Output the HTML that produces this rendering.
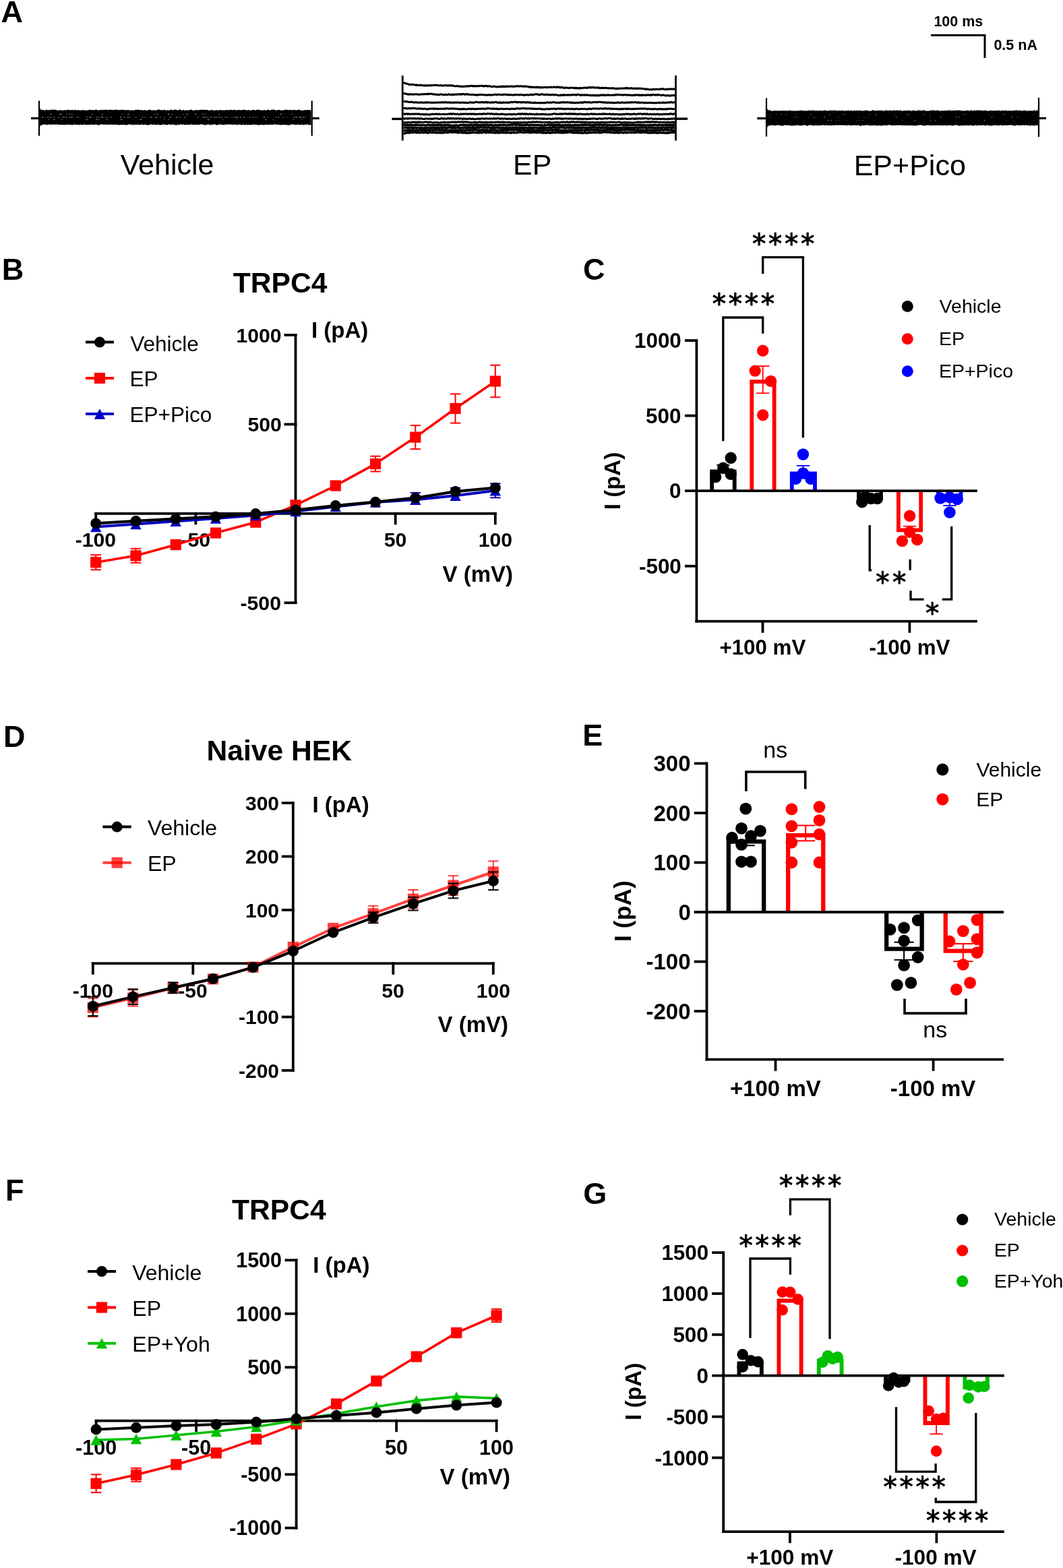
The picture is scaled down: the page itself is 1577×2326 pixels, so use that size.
<!DOCTYPE html>
<html><head><meta charset="utf-8"><title>Figure</title>
<style>html,body{margin:0;padding:0;background:#fff;} svg{display:block;}</style></head>
<body>
<svg width="1577" height="2326" viewBox="0 0 1577 2326">
<rect x="0" y="0" width="1577" height="2326" fill="#fff"/>
<text x="1.50" y="33.30" font-family="'Liberation Sans', sans-serif" font-weight="bold" font-size="45" fill="#000" >A</text>
<text x="1385.40" y="38.70" font-family="'Liberation Sans', sans-serif" font-weight="bold" font-size="21.5" fill="#000" >100 ms</text>
<text x="1474.40" y="74.20" font-family="'Liberation Sans', sans-serif" font-weight="bold" font-size="21.5" fill="#000" >0.5 nA</text>
<path d="M1381,52.3 H1461 V86" stroke="#000" stroke-width="3.0" fill="none" stroke-linejoin="miter" />
<line x1="46.00" y1="175.50" x2="58.00" y2="175.50" stroke="#000" stroke-width="3.2" stroke-linecap="butt"/>
<line x1="58.00" y1="149.50" x2="58.00" y2="201.50" stroke="#000" stroke-width="2.2" stroke-linecap="butt"/>
<path d="M58.0,162.7 L59.5,163.6 L61.0,163.2 L62.5,163.4 L64.0,162.6 L65.5,163.7 L67.0,163.6 L68.5,163.1 L70.0,162.8 L71.5,163.8 L73.0,162.5 L74.5,163.8 L76.0,162.8 L77.5,162.5 L79.0,163.1 L80.5,162.8 L82.0,162.8 L83.5,162.9 L85.0,163.7 L86.5,163.4 L88.0,163.9 L89.5,162.7 L91.0,163.5 L92.5,163.8 L94.0,163.7 L95.5,162.9 L97.0,163.7 L98.5,163.2 L100.0,162.5 L101.5,163.6 L103.0,162.7 L104.5,163.5 L106.0,163.0 L107.5,163.2 L109.0,163.2 L110.5,163.2 L112.0,162.6 L113.5,163.9 L115.0,163.1 L116.5,163.2 L118.0,163.6 L119.5,163.7 L121.0,163.2 L122.5,163.3 L124.0,162.9 L125.5,163.8 L127.0,163.6 L128.5,163.7 L130.0,163.6 L131.5,163.3 L133.0,162.6 L134.5,163.3 L136.0,163.2 L137.5,163.0 L139.0,163.3 L140.5,163.4 L142.0,162.5 L143.5,162.7 L145.0,163.7 L146.5,163.6 L148.0,162.9 L149.5,163.4 L151.0,162.5 L152.5,163.6 L154.0,162.7 L155.5,163.0 L157.0,162.7 L158.5,162.7 L160.0,163.5 L161.5,163.0 L163.0,162.5 L164.5,163.1 L166.0,162.7 L167.5,163.2 L169.0,163.3 L170.5,162.5 L172.0,162.7 L173.5,162.7 L175.0,163.4 L176.5,162.8 L178.0,163.6 L179.5,162.8 L181.0,163.1 L182.5,162.9 L184.0,162.6 L185.5,163.9 L187.0,162.9 L188.5,162.9 L190.0,163.5 L191.5,162.9 L193.0,163.7 L194.5,163.6 L196.0,163.3 L197.5,163.7 L199.0,163.5 L200.5,163.0 L202.0,162.8 L203.5,163.1 L205.0,162.6 L206.5,162.9 L208.0,163.0 L209.5,163.8 L211.0,162.8 L212.5,163.9 L214.0,163.0 L215.5,163.4 L217.0,163.8 L218.5,163.7 L220.0,163.2 L221.5,162.8 L223.0,162.6 L224.5,163.8 L226.0,163.6 L227.5,163.7 L229.0,163.0 L230.5,163.7 L232.0,163.8 L233.5,162.7 L235.0,162.6 L236.5,162.6 L238.0,163.6 L239.5,163.0 L241.0,163.6 L242.5,163.3 L244.0,162.6 L245.5,163.7 L247.0,163.8 L248.5,162.9 L250.0,163.7 L251.5,163.4 L253.0,162.7 L254.5,162.6 L256.0,163.9 L257.5,162.7 L259.0,162.8 L260.5,162.6 L262.0,163.0 L263.5,163.8 L265.0,162.9 L266.5,162.6 L268.0,162.6 L269.5,163.9 L271.0,163.3 L272.5,162.9 L274.0,163.8 L275.5,163.9 L277.0,162.8 L278.5,163.9 L280.0,163.5 L281.5,162.9 L283.0,162.9 L284.5,162.6 L286.0,163.9 L287.5,163.4 L289.0,163.8 L290.5,162.9 L292.0,162.9 L293.5,163.8 L295.0,163.0 L296.5,163.3 L298.0,162.8 L299.5,162.8 L301.0,163.3 L302.5,162.6 L304.0,162.9 L305.5,163.2 L307.0,162.7 L308.5,163.6 L310.0,163.8 L311.5,163.6 L313.0,163.7 L314.5,162.6 L316.0,163.8 L317.5,163.8 L319.0,163.8 L320.5,162.9 L322.0,163.6 L323.5,163.7 L325.0,163.5 L326.5,163.1 L328.0,163.5 L329.5,162.9 L331.0,163.8 L332.5,163.3 L334.0,163.7 L335.5,163.1 L337.0,162.9 L338.5,163.4 L340.0,163.3 L341.5,163.0 L343.0,162.7 L344.5,163.7 L346.0,163.1 L347.5,162.8 L349.0,163.2 L350.5,163.4 L352.0,163.5 L353.5,162.8 L355.0,163.2 L356.5,163.1 L358.0,163.8 L359.5,162.9 L361.0,162.6 L362.5,163.2 L364.0,162.7 L365.5,163.7 L367.0,163.5 L368.5,163.0 L370.0,163.5 L371.5,163.7 L373.0,163.8 L374.5,162.7 L376.0,162.8 L377.5,163.6 L379.0,163.5 L380.5,163.0 L382.0,162.7 L383.5,162.6 L385.0,163.6 L386.5,162.9 L388.0,163.8 L389.5,163.6 L391.0,163.4 L392.5,163.1 L394.0,163.9 L395.5,163.6 L397.0,162.7 L398.5,162.7 L400.0,163.8 L401.5,163.3 L403.0,162.7 L404.5,162.8 L406.0,162.5 L407.5,163.1 L409.0,163.4 L410.5,163.7 L412.0,162.9 L413.5,162.9 L415.0,162.9 L416.5,163.6 L418.0,163.9 L419.5,163.2 L421.0,163.6 L422.5,163.0 L424.0,162.7 L425.5,162.7 L427.0,163.3 L428.5,163.6 L430.0,162.7 L431.5,163.3 L433.0,163.2 L434.5,163.2 L436.0,163.1 L437.5,162.9 L439.0,163.6 L440.5,163.2 L442.0,163.0 L443.5,162.5 L445.0,163.3 L446.5,163.7 L448.0,163.9 L449.5,163.7 L451.0,163.5 L452.5,162.9 L454.0,163.4 L455.5,163.0 L457.0,163.0 L458.5,163.1 L460.0,163.3 L461.5,163.8 L461.5,185.3 L460.0,185.3 L458.5,185.5 L457.0,184.9 L455.5,184.3 L454.0,185.0 L452.5,184.5 L451.0,185.7 L449.5,184.9 L448.0,184.9 L446.5,185.0 L445.0,185.5 L443.5,184.7 L442.0,184.6 L440.5,185.2 L439.0,185.3 L437.5,184.9 L436.0,184.9 L434.5,184.3 L433.0,184.8 L431.5,184.7 L430.0,185.0 L428.5,185.7 L427.0,185.7 L425.5,185.3 L424.0,185.4 L422.5,184.7 L421.0,185.1 L419.5,185.5 L418.0,185.1 L416.5,185.4 L415.0,185.3 L413.5,185.1 L412.0,185.1 L410.5,184.6 L409.0,185.1 L407.5,184.3 L406.0,184.6 L404.5,185.3 L403.0,184.7 L401.5,184.9 L400.0,184.5 L398.5,185.6 L397.0,184.8 L395.5,184.9 L394.0,184.8 L392.5,185.6 L391.0,185.3 L389.5,185.5 L388.0,184.5 L386.5,185.6 L385.0,185.2 L383.5,185.7 L382.0,185.3 L380.5,185.0 L379.0,185.3 L377.5,184.4 L376.0,185.1 L374.5,184.7 L373.0,185.1 L371.5,185.6 L370.0,185.1 L368.5,185.3 L367.0,185.5 L365.5,184.7 L364.0,185.4 L362.5,185.5 L361.0,184.4 L359.5,185.2 L358.0,185.6 L356.5,185.1 L355.0,184.6 L353.5,185.0 L352.0,185.3 L350.5,184.9 L349.0,185.0 L347.5,184.3 L346.0,185.2 L344.5,184.9 L343.0,184.7 L341.5,184.5 L340.0,184.4 L338.5,184.9 L337.0,184.3 L335.5,184.8 L334.0,184.9 L332.5,185.1 L331.0,185.4 L329.5,184.4 L328.0,185.2 L326.5,184.5 L325.0,184.5 L323.5,185.3 L322.0,185.6 L320.5,185.6 L319.0,184.3 L317.5,184.5 L316.0,184.7 L314.5,185.0 L313.0,184.7 L311.5,185.7 L310.0,184.5 L308.5,184.4 L307.0,185.0 L305.5,185.5 L304.0,185.4 L302.5,185.2 L301.0,184.4 L299.5,184.4 L298.0,184.3 L296.5,185.1 L295.0,185.1 L293.5,184.7 L292.0,185.5 L290.5,184.8 L289.0,184.8 L287.5,185.2 L286.0,184.9 L284.5,184.7 L283.0,184.6 L281.5,185.1 L280.0,185.2 L278.5,185.1 L277.0,185.2 L275.5,184.5 L274.0,185.7 L272.5,184.4 L271.0,184.9 L269.5,184.7 L268.0,184.3 L266.5,185.2 L265.0,185.0 L263.5,184.7 L262.0,185.7 L260.5,185.6 L259.0,185.3 L257.5,184.5 L256.0,184.9 L254.5,184.6 L253.0,185.5 L251.5,184.4 L250.0,184.3 L248.5,185.4 L247.0,184.9 L245.5,185.1 L244.0,184.7 L242.5,184.6 L241.0,184.8 L239.5,185.2 L238.0,185.5 L236.5,185.5 L235.0,184.4 L233.5,185.1 L232.0,185.5 L230.5,185.1 L229.0,184.7 L227.5,184.8 L226.0,185.1 L224.5,184.6 L223.0,184.5 L221.5,185.3 L220.0,185.7 L218.5,185.3 L217.0,184.8 L215.5,185.5 L214.0,184.6 L212.5,185.4 L211.0,184.8 L209.5,184.3 L208.0,185.5 L206.5,185.0 L205.0,185.2 L203.5,184.6 L202.0,185.2 L200.5,184.8 L199.0,185.0 L197.5,185.7 L196.0,184.5 L194.5,185.6 L193.0,184.4 L191.5,184.3 L190.0,184.9 L188.5,185.6 L187.0,185.5 L185.5,185.5 L184.0,184.7 L182.5,185.2 L181.0,185.1 L179.5,185.2 L178.0,185.0 L176.5,185.7 L175.0,185.1 L173.5,185.3 L172.0,185.3 L170.5,184.3 L169.0,185.4 L167.5,184.6 L166.0,185.6 L164.5,184.6 L163.0,184.8 L161.5,185.0 L160.0,184.9 L158.5,184.7 L157.0,185.0 L155.5,184.4 L154.0,185.2 L152.5,184.6 L151.0,184.3 L149.5,184.4 L148.0,185.5 L146.5,185.4 L145.0,185.4 L143.5,185.1 L142.0,184.6 L140.5,184.9 L139.0,185.2 L137.5,184.8 L136.0,185.0 L134.5,184.6 L133.0,185.5 L131.5,184.9 L130.0,185.0 L128.5,185.3 L127.0,185.4 L125.5,184.3 L124.0,185.1 L122.5,184.9 L121.0,185.6 L119.5,184.6 L118.0,185.1 L116.5,185.7 L115.0,184.5 L113.5,185.1 L112.0,185.3 L110.5,184.3 L109.0,184.9 L107.5,185.4 L106.0,184.9 L104.5,185.2 L103.0,185.1 L101.5,184.9 L100.0,184.6 L98.5,185.1 L97.0,185.5 L95.5,185.1 L94.0,185.2 L92.5,184.9 L91.0,185.3 L89.5,184.8 L88.0,185.5 L86.5,184.6 L85.0,185.1 L83.5,184.3 L82.0,184.9 L80.5,184.6 L79.0,185.0 L77.5,184.6 L76.0,184.9 L74.5,184.8 L73.0,185.1 L71.5,184.3 L70.0,185.6 L68.5,185.3 L67.0,184.3 L65.5,184.9 L64.0,184.3 L62.5,185.4 L61.0,184.9 L59.5,184.7 L58.0,185.5 Z" fill="#000"/>
<rect x="74.45" y="168.80" width="1.72" height="0.80" fill="#fff" opacity="0.85"/>
<rect x="88.48" y="168.80" width="2.57" height="0.80" fill="#fff" opacity="0.85"/>
<rect x="98.80" y="168.80" width="0.83" height="0.80" fill="#fff" opacity="0.85"/>
<rect x="102.92" y="168.80" width="1.14" height="0.80" fill="#fff" opacity="0.85"/>
<rect x="105.89" y="168.80" width="1.64" height="0.80" fill="#fff" opacity="0.85"/>
<rect x="136.17" y="168.80" width="1.32" height="0.80" fill="#fff" opacity="0.85"/>
<rect x="150.98" y="168.80" width="1.18" height="0.80" fill="#fff" opacity="0.85"/>
<rect x="180.63" y="168.80" width="0.98" height="0.80" fill="#fff" opacity="0.85"/>
<rect x="189.37" y="168.80" width="2.12" height="0.80" fill="#fff" opacity="0.85"/>
<rect x="228.10" y="168.80" width="0.96" height="0.80" fill="#fff" opacity="0.85"/>
<rect x="232.43" y="168.80" width="1.88" height="0.80" fill="#fff" opacity="0.85"/>
<rect x="248.79" y="168.80" width="2.44" height="0.80" fill="#fff" opacity="0.85"/>
<rect x="254.06" y="168.80" width="1.14" height="0.80" fill="#fff" opacity="0.85"/>
<rect x="271.02" y="168.80" width="0.87" height="0.80" fill="#fff" opacity="0.85"/>
<rect x="276.87" y="168.80" width="2.07" height="0.80" fill="#fff" opacity="0.85"/>
<rect x="289.26" y="168.80" width="1.81" height="0.80" fill="#fff" opacity="0.85"/>
<rect x="300.60" y="168.80" width="1.28" height="0.80" fill="#fff" opacity="0.85"/>
<rect x="304.39" y="168.80" width="1.12" height="0.80" fill="#fff" opacity="0.85"/>
<rect x="324.92" y="168.80" width="0.86" height="0.80" fill="#fff" opacity="0.85"/>
<rect x="415.70" y="168.80" width="2.06" height="0.80" fill="#fff" opacity="0.85"/>
<rect x="432.13" y="168.80" width="1.11" height="0.80" fill="#fff" opacity="0.85"/>
<rect x="62.00" y="173.60" width="1.98" height="0.80" fill="#fff" opacity="0.85"/>
<rect x="66.67" y="173.60" width="0.82" height="0.80" fill="#fff" opacity="0.85"/>
<rect x="70.16" y="173.60" width="2.26" height="0.80" fill="#fff" opacity="0.85"/>
<rect x="74.93" y="173.60" width="1.80" height="0.80" fill="#fff" opacity="0.85"/>
<rect x="79.57" y="173.60" width="1.59" height="0.80" fill="#fff" opacity="0.85"/>
<rect x="86.76" y="173.60" width="1.41" height="0.80" fill="#fff" opacity="0.85"/>
<rect x="92.45" y="173.60" width="2.45" height="0.80" fill="#fff" opacity="0.85"/>
<rect x="96.48" y="173.60" width="2.58" height="0.80" fill="#fff" opacity="0.85"/>
<rect x="102.27" y="173.60" width="1.56" height="0.80" fill="#fff" opacity="0.85"/>
<rect x="104.81" y="173.60" width="1.92" height="0.80" fill="#fff" opacity="0.85"/>
<rect x="107.46" y="173.60" width="0.89" height="0.80" fill="#fff" opacity="0.85"/>
<rect x="113.75" y="173.60" width="1.87" height="0.80" fill="#fff" opacity="0.85"/>
<rect x="117.66" y="173.60" width="0.85" height="0.80" fill="#fff" opacity="0.85"/>
<rect x="128.47" y="173.60" width="1.44" height="0.80" fill="#fff" opacity="0.85"/>
<rect x="131.92" y="173.60" width="2.01" height="0.80" fill="#fff" opacity="0.85"/>
<rect x="134.38" y="173.60" width="1.45" height="0.80" fill="#fff" opacity="0.85"/>
<rect x="142.42" y="173.60" width="2.28" height="0.80" fill="#fff" opacity="0.85"/>
<rect x="146.14" y="173.60" width="1.20" height="0.80" fill="#fff" opacity="0.85"/>
<rect x="149.85" y="173.60" width="2.19" height="0.80" fill="#fff" opacity="0.85"/>
<rect x="152.26" y="173.60" width="1.12" height="0.80" fill="#fff" opacity="0.85"/>
<rect x="157.05" y="173.60" width="1.30" height="0.80" fill="#fff" opacity="0.85"/>
<rect x="160.42" y="173.60" width="0.89" height="0.80" fill="#fff" opacity="0.85"/>
<rect x="164.26" y="173.60" width="1.31" height="0.80" fill="#fff" opacity="0.85"/>
<rect x="178.22" y="173.60" width="2.15" height="0.80" fill="#fff" opacity="0.85"/>
<rect x="183.86" y="173.60" width="1.28" height="0.80" fill="#fff" opacity="0.85"/>
<rect x="188.95" y="173.60" width="1.23" height="0.80" fill="#fff" opacity="0.85"/>
<rect x="190.98" y="173.60" width="1.91" height="0.80" fill="#fff" opacity="0.85"/>
<rect x="200.93" y="173.60" width="1.38" height="0.80" fill="#fff" opacity="0.85"/>
<rect x="210.64" y="173.60" width="1.75" height="0.80" fill="#fff" opacity="0.85"/>
<rect x="214.55" y="173.60" width="1.27" height="0.80" fill="#fff" opacity="0.85"/>
<rect x="222.98" y="173.60" width="2.37" height="0.80" fill="#fff" opacity="0.85"/>
<rect x="230.16" y="173.60" width="2.07" height="0.80" fill="#fff" opacity="0.85"/>
<rect x="233.01" y="173.60" width="1.26" height="0.80" fill="#fff" opacity="0.85"/>
<rect x="237.75" y="173.60" width="1.04" height="0.80" fill="#fff" opacity="0.85"/>
<rect x="243.29" y="173.60" width="1.23" height="0.80" fill="#fff" opacity="0.85"/>
<rect x="251.27" y="173.60" width="2.46" height="0.80" fill="#fff" opacity="0.85"/>
<rect x="260.79" y="173.60" width="2.42" height="0.80" fill="#fff" opacity="0.85"/>
<rect x="265.95" y="173.60" width="1.43" height="0.80" fill="#fff" opacity="0.85"/>
<rect x="273.68" y="173.60" width="2.08" height="0.80" fill="#fff" opacity="0.85"/>
<rect x="292.54" y="173.60" width="1.44" height="0.80" fill="#fff" opacity="0.85"/>
<rect x="300.54" y="173.60" width="1.92" height="0.80" fill="#fff" opacity="0.85"/>
<rect x="303.04" y="173.60" width="2.06" height="0.80" fill="#fff" opacity="0.85"/>
<rect x="306.62" y="173.60" width="1.53" height="0.80" fill="#fff" opacity="0.85"/>
<rect x="309.91" y="173.60" width="1.06" height="0.80" fill="#fff" opacity="0.85"/>
<rect x="312.28" y="173.60" width="2.05" height="0.80" fill="#fff" opacity="0.85"/>
<rect x="317.31" y="173.60" width="2.48" height="0.80" fill="#fff" opacity="0.85"/>
<rect x="320.78" y="173.60" width="1.68" height="0.80" fill="#fff" opacity="0.85"/>
<rect x="324.55" y="173.60" width="2.00" height="0.80" fill="#fff" opacity="0.85"/>
<rect x="327.92" y="173.60" width="1.39" height="0.80" fill="#fff" opacity="0.85"/>
<rect x="333.69" y="173.60" width="1.45" height="0.80" fill="#fff" opacity="0.85"/>
<rect x="336.81" y="173.60" width="1.58" height="0.80" fill="#fff" opacity="0.85"/>
<rect x="343.70" y="173.60" width="1.09" height="0.80" fill="#fff" opacity="0.85"/>
<rect x="347.55" y="173.60" width="2.32" height="0.80" fill="#fff" opacity="0.85"/>
<rect x="350.55" y="173.60" width="2.34" height="0.80" fill="#fff" opacity="0.85"/>
<rect x="355.88" y="173.60" width="1.77" height="0.80" fill="#fff" opacity="0.85"/>
<rect x="360.93" y="173.60" width="2.01" height="0.80" fill="#fff" opacity="0.85"/>
<rect x="369.79" y="173.60" width="1.43" height="0.80" fill="#fff" opacity="0.85"/>
<rect x="374.72" y="173.60" width="1.70" height="0.80" fill="#fff" opacity="0.85"/>
<rect x="378.17" y="173.60" width="1.04" height="0.80" fill="#fff" opacity="0.85"/>
<rect x="381.07" y="173.60" width="1.25" height="0.80" fill="#fff" opacity="0.85"/>
<rect x="390.79" y="173.60" width="2.37" height="0.80" fill="#fff" opacity="0.85"/>
<rect x="396.38" y="173.60" width="1.03" height="0.80" fill="#fff" opacity="0.85"/>
<rect x="409.03" y="173.60" width="1.27" height="0.80" fill="#fff" opacity="0.85"/>
<rect x="412.66" y="173.60" width="1.49" height="0.80" fill="#fff" opacity="0.85"/>
<rect x="418.93" y="173.60" width="1.26" height="0.80" fill="#fff" opacity="0.85"/>
<rect x="424.82" y="173.60" width="0.90" height="0.80" fill="#fff" opacity="0.85"/>
<rect x="435.44" y="173.60" width="2.12" height="0.80" fill="#fff" opacity="0.85"/>
<rect x="438.66" y="173.60" width="2.36" height="0.80" fill="#fff" opacity="0.85"/>
<rect x="444.00" y="173.60" width="2.38" height="0.80" fill="#fff" opacity="0.85"/>
<rect x="446.10" y="173.60" width="0.82" height="0.80" fill="#fff" opacity="0.85"/>
<rect x="448.78" y="173.60" width="2.09" height="0.80" fill="#fff" opacity="0.85"/>
<rect x="451.97" y="173.60" width="1.13" height="0.80" fill="#fff" opacity="0.85"/>
<rect x="72.14" y="177.00" width="1.22" height="0.80" fill="#fff" opacity="0.85"/>
<rect x="79.66" y="177.00" width="1.76" height="0.80" fill="#fff" opacity="0.85"/>
<rect x="90.68" y="177.00" width="1.30" height="0.80" fill="#fff" opacity="0.85"/>
<rect x="127.55" y="177.00" width="2.28" height="0.80" fill="#fff" opacity="0.85"/>
<rect x="142.50" y="177.00" width="2.02" height="0.80" fill="#fff" opacity="0.85"/>
<rect x="146.27" y="177.00" width="1.16" height="0.80" fill="#fff" opacity="0.85"/>
<rect x="157.79" y="177.00" width="1.68" height="0.80" fill="#fff" opacity="0.85"/>
<rect x="178.66" y="177.00" width="2.25" height="0.80" fill="#fff" opacity="0.85"/>
<rect x="207.62" y="177.00" width="2.55" height="0.80" fill="#fff" opacity="0.85"/>
<rect x="243.14" y="177.00" width="0.81" height="0.80" fill="#fff" opacity="0.85"/>
<rect x="249.13" y="177.00" width="1.34" height="0.80" fill="#fff" opacity="0.85"/>
<rect x="307.98" y="177.00" width="2.19" height="0.80" fill="#fff" opacity="0.85"/>
<rect x="329.54" y="177.00" width="1.03" height="0.80" fill="#fff" opacity="0.85"/>
<rect x="350.66" y="177.00" width="0.81" height="0.80" fill="#fff" opacity="0.85"/>
<rect x="393.35" y="177.00" width="1.76" height="0.80" fill="#fff" opacity="0.85"/>
<rect x="404.99" y="177.00" width="0.89" height="0.80" fill="#fff" opacity="0.85"/>
<rect x="434.64" y="177.00" width="1.36" height="0.80" fill="#fff" opacity="0.85"/>
<rect x="447.50" y="177.00" width="0.85" height="0.80" fill="#fff" opacity="0.85"/>
<line x1="462.70" y1="149.50" x2="462.70" y2="201.50" stroke="#000" stroke-width="2.2" stroke-linecap="butt"/>
<line x1="462.70" y1="175.50" x2="473.70" y2="175.50" stroke="#000" stroke-width="3.2" stroke-linecap="butt"/>
<path d="M58.6,157.2 Q58.6,163.2 63.6,163.2 L58.6,164.2 Z" fill="#000"/>
<path d="M58.6,191.0 Q58.6,185.0 63.6,185.0 L58.6,184.0 Z" fill="#000"/>
<line x1="581.40" y1="176.40" x2="597.50" y2="176.40" stroke="#000" stroke-width="3.4" stroke-linecap="butt"/>
<line x1="597.20" y1="112.00" x2="597.20" y2="208.50" stroke="#000" stroke-width="2.8" stroke-linecap="butt"/>
<line x1="1002.50" y1="112.00" x2="1002.50" y2="208.50" stroke="#000" stroke-width="2.8" stroke-linecap="butt"/>
<line x1="1002.50" y1="176.20" x2="1020.00" y2="176.20" stroke="#000" stroke-width="3.4" stroke-linecap="butt"/>
<polyline points="598.50,122.21 599.50,122.90 600.50,123.15 601.50,123.98 602.50,124.10 603.50,123.97 604.50,124.61 605.50,124.43 606.50,125.49 607.50,125.66 608.50,125.16 609.50,125.24 610.50,125.78 611.50,125.29 612.50,125.32 613.50,125.39 614.50,125.61 615.50,125.95 616.50,126.35 617.50,125.67 618.50,126.49 619.50,126.17 620.50,126.60 621.50,126.61 622.50,126.04 623.50,126.62 624.50,126.18 625.50,126.15 626.50,126.61 627.50,127.05 628.50,126.89 629.50,126.54 630.50,127.21 631.50,127.28 632.50,126.59 633.50,126.78 634.50,126.92 635.50,127.14 636.50,126.31 637.50,126.67 638.50,127.02 639.50,126.60 640.50,126.65 641.50,126.66 642.50,126.35 643.50,126.11 644.50,126.39 645.50,126.32 646.50,126.14 647.50,126.67 648.50,126.20 649.50,126.36 650.50,126.68 651.50,126.77 652.50,126.89 653.50,126.69 654.50,126.33 655.50,126.96 656.50,127.06 657.50,126.89 658.50,126.96 659.50,126.72 660.50,126.72 661.50,126.82 662.50,126.40 663.50,126.95 664.50,127.15 665.50,126.49 666.50,127.12 667.50,127.12 668.50,126.59 669.50,126.60 670.50,127.23 671.50,126.94 672.50,127.13 673.50,127.55 674.50,127.69 675.50,127.90 676.50,127.83 677.50,127.70 678.50,127.47 679.50,127.65 680.50,127.80 681.50,128.18 682.50,128.41 683.50,127.92 684.50,128.11 685.50,128.64 686.50,128.08 687.50,128.36 688.50,128.22 689.50,128.21 690.50,127.98 691.50,127.99 692.50,128.10 693.50,127.51 694.50,128.11 695.50,128.16 696.50,127.31 697.50,127.44 698.50,127.49 699.50,127.33 700.50,127.38 701.50,127.89 702.50,127.38 703.50,127.33 704.50,128.21 705.50,127.67 706.50,127.80 707.50,127.73 708.50,127.58 709.50,127.67 710.50,127.38 711.50,127.73 712.50,127.37 713.50,127.23 714.50,127.26 715.50,127.44 716.50,127.94 717.50,127.60 718.50,127.99 719.50,127.43 720.50,127.32 721.50,127.82 722.50,127.36 723.50,128.24 724.50,127.72 725.50,127.69 726.50,127.78 727.50,127.91 728.50,128.64 729.50,128.79 730.50,128.44 731.50,128.19 732.50,128.03 733.50,128.15 734.50,128.41 735.50,128.77 736.50,128.77 737.50,128.99 738.50,128.94 739.50,128.44 740.50,128.73 741.50,128.47 742.50,128.71 743.50,128.13 744.50,128.89 745.50,127.90 746.50,128.47 747.50,128.19 748.50,128.63 749.50,127.96 750.50,128.71 751.50,127.82 752.50,128.56 753.50,128.54 754.50,128.34 755.50,128.01 756.50,128.21 757.50,128.26 758.50,128.01 759.50,127.93 760.50,128.57 761.50,128.24 762.50,127.91 763.50,128.22 764.50,128.17 765.50,127.62 766.50,128.03 767.50,127.99 768.50,127.49 769.50,127.66 770.50,128.22 771.50,127.95 772.50,127.63 773.50,127.85 774.50,127.97 775.50,128.30 776.50,128.54 777.50,127.87 778.50,127.93 779.50,128.44 780.50,128.13 781.50,128.37 782.50,128.43 783.50,128.50 784.50,129.13 785.50,128.67 786.50,129.21 787.50,129.66 788.50,128.88 789.50,129.53 790.50,129.38 791.50,128.98 792.50,129.77 793.50,129.57 794.50,129.22 795.50,129.74 796.50,128.97 797.50,129.72 798.50,129.75 799.50,129.06 800.50,129.89 801.50,129.80 802.50,129.97 803.50,129.37 804.50,129.87 805.50,129.95 806.50,129.54 807.50,129.25 808.50,129.24 809.50,129.73 810.50,129.76 811.50,129.31 812.50,129.78 813.50,129.16 814.50,129.53 815.50,129.51 816.50,129.14 817.50,128.93 818.50,129.72 819.50,129.62 820.50,129.32 821.50,128.73 822.50,129.21 823.50,129.64 824.50,129.46 825.50,129.41 826.50,128.81 827.50,129.40 828.50,129.13 829.50,129.96 830.50,129.07 831.50,129.37 832.50,130.12 833.50,129.45 834.50,129.71 835.50,129.80 836.50,130.44 837.50,130.32 838.50,130.60 839.50,129.90 840.50,129.83 841.50,130.11 842.50,130.56 843.50,130.43 844.50,130.76 845.50,130.55 846.50,129.94 847.50,130.19 848.50,130.10 849.50,130.20 850.50,130.63 851.50,130.45 852.50,130.81 853.50,130.12 854.50,131.06 855.50,130.36 856.50,130.98 857.50,131.11 858.50,130.34 859.50,130.85 860.50,131.28 861.50,130.30 862.50,130.76 863.50,130.65 864.50,130.55 865.50,130.30 866.50,130.21 867.50,130.21 868.50,130.07 869.50,130.06 870.50,130.58 871.50,130.55 872.50,129.78 873.50,129.49 874.50,129.68 875.50,130.23 876.50,129.53 877.50,130.01 878.50,129.45 879.50,129.72 880.50,129.57 881.50,130.06 882.50,129.86 883.50,130.31 884.50,130.11 885.50,130.05 886.50,129.71 887.50,130.57 888.50,129.81 889.50,130.30 890.50,130.82 891.50,130.64 892.50,130.22 893.50,130.81 894.50,130.15 895.50,130.49 896.50,130.50 897.50,130.67 898.50,130.27 899.50,130.41 900.50,130.39 901.50,131.03 902.50,130.92 903.50,130.59 904.50,131.10 905.50,131.02 906.50,130.73 907.50,131.06 908.50,130.73 909.50,130.91 910.50,130.83 911.50,130.88 912.50,131.44 913.50,131.67 914.50,131.68 915.50,131.05 916.50,131.75 917.50,131.09 918.50,131.39 919.50,131.24 920.50,131.05 921.50,131.20 922.50,131.33 923.50,131.08 924.50,130.84 925.50,131.14 926.50,130.99 927.50,130.60 928.50,131.19 929.50,130.62 930.50,130.27 931.50,131.21 932.50,131.22 933.50,130.86 934.50,131.11 935.50,131.10 936.50,130.55 937.50,131.29 938.50,131.16 939.50,131.54 940.50,131.08 941.50,130.91 942.50,131.42 943.50,131.22 944.50,131.56 945.50,130.74 946.50,131.40 947.50,131.65 948.50,130.96 949.50,130.90 950.50,131.35 951.50,131.57 952.50,131.62 953.50,131.60 954.50,131.50 955.50,131.97 956.50,132.35 957.50,131.98 958.50,131.98 959.50,132.67 960.50,131.98 961.50,132.46 962.50,132.82 963.50,132.84 964.50,132.86 965.50,132.83 966.50,132.63 967.50,133.15 968.50,132.18 969.50,132.58 970.50,132.58 971.50,132.80 972.50,132.33 973.50,132.18 974.50,132.38 975.50,132.52 976.50,132.36 977.50,132.67 978.50,132.24 979.50,131.94 980.50,132.36 981.50,132.10 982.50,131.74 983.50,132.12 984.50,131.84 985.50,132.38 986.50,132.66 987.50,132.50 988.50,132.73 989.50,131.92 990.50,132.61 991.50,132.53 992.50,131.99 993.50,132.20 994.50,131.87 995.50,131.98 996.50,132.17 997.50,132.01 998.50,131.99 999.50,132.29 1000.50,132.25 1001.50,131.70" fill="none" stroke="#000" stroke-width="3.0" stroke-linejoin="round" />
<polyline points="598.50,138.44 599.50,138.48 600.50,139.07 601.50,138.93 602.50,139.19 603.50,139.44 604.50,139.98 605.50,139.60 606.50,140.43 607.50,139.57 608.50,139.71 609.50,139.62 610.50,140.30 611.50,139.89 612.50,139.99 613.50,139.83 614.50,140.14 615.50,139.90 616.50,139.70 617.50,139.92 618.50,139.79 619.50,139.60 620.50,140.31 621.50,140.16 622.50,140.13 623.50,140.34 624.50,139.83 625.50,139.79 626.50,139.81 627.50,139.75 628.50,139.98 629.50,139.28 630.50,139.69 631.50,139.72 632.50,139.50 633.50,139.14 634.50,139.80 635.50,139.09 636.50,139.64 637.50,139.23 638.50,139.13 639.50,139.31 640.50,139.23 641.50,139.37 642.50,139.96 643.50,140.07 644.50,139.77 645.50,140.14 646.50,140.03 647.50,140.12 648.50,140.56 649.50,140.05 650.50,140.65 651.50,140.51 652.50,140.53 653.50,139.87 654.50,139.95 655.50,139.89 656.50,140.19 657.50,140.78 658.50,140.68 659.50,140.62 660.50,139.87 661.50,140.44 662.50,140.48 663.50,140.50 664.50,140.47 665.50,139.81 666.50,139.84 667.50,140.46 668.50,140.40 669.50,140.56 670.50,140.12 671.50,140.57 672.50,139.83 673.50,140.64 674.50,140.56 675.50,140.00 676.50,139.71 677.50,140.17 678.50,140.28 679.50,139.90 680.50,139.57 681.50,139.74 682.50,140.24 683.50,139.47 684.50,140.27 685.50,139.55 686.50,139.48 687.50,139.37 688.50,140.24 689.50,140.16 690.50,139.60 691.50,139.41 692.50,140.01 693.50,140.30 694.50,139.49 695.50,140.18 696.50,140.48 697.50,140.16 698.50,140.35 699.50,140.66 700.50,140.17 701.50,140.27 702.50,140.72 703.50,140.66 704.50,140.68 705.50,140.51 706.50,141.14 707.50,140.50 708.50,140.91 709.50,141.13 710.50,140.63 711.50,140.29 712.50,140.46 713.50,140.30 714.50,140.39 715.50,140.37 716.50,140.61 717.50,140.65 718.50,140.75 719.50,140.99 720.50,141.02 721.50,141.05 722.50,140.74 723.50,141.06 724.50,140.95 725.50,140.53 726.50,140.94 727.50,140.69 728.50,141.02 729.50,141.05 730.50,140.50 731.50,140.65 732.50,140.60 733.50,140.38 734.50,140.06 735.50,140.00 736.50,140.88 737.50,140.57 738.50,140.21 739.50,140.40 740.50,139.97 741.50,140.39 742.50,140.62 743.50,140.45 744.50,140.15 745.50,140.70 746.50,140.67 747.50,139.85 748.50,140.24 749.50,140.33 750.50,140.20 751.50,140.59 752.50,140.16 753.50,140.80 754.50,140.94 755.50,140.17 756.50,140.82 757.50,140.41 758.50,140.79 759.50,140.85 760.50,141.13 761.50,140.95 762.50,140.49 763.50,140.88 764.50,140.30 765.50,140.87 766.50,140.59 767.50,140.45 768.50,140.44 769.50,140.45 770.50,141.05 771.50,140.38 772.50,140.55 773.50,140.54 774.50,140.53 775.50,141.12 776.50,140.99 777.50,141.06 778.50,141.29 779.50,140.82 780.50,140.38 781.50,140.49 782.50,140.77 783.50,140.91 784.50,141.04 785.50,140.56 786.50,140.20 787.50,140.49 788.50,140.76 789.50,140.09 790.50,140.63 791.50,140.55 792.50,140.18 793.50,140.05 794.50,139.68 795.50,139.65 796.50,139.58 797.50,140.16 798.50,140.28 799.50,140.59 800.50,140.23 801.50,140.65 802.50,140.10 803.50,139.86 804.50,139.82 805.50,140.07 806.50,140.34 807.50,140.82 808.50,140.14 809.50,140.09 810.50,140.59 811.50,140.26 812.50,140.44 813.50,140.05 814.50,140.76 815.50,140.85 816.50,140.71 817.50,140.92 818.50,140.36 819.50,140.10 820.50,140.43 821.50,141.08 822.50,140.72 823.50,140.51 824.50,140.53 825.50,140.60 826.50,140.94 827.50,141.48 828.50,141.48 829.50,141.39 830.50,141.41 831.50,140.86 832.50,141.44 833.50,140.88 834.50,141.15 835.50,140.63 836.50,141.44 837.50,140.63 838.50,141.04 839.50,141.06 840.50,140.98 841.50,140.97 842.50,140.61 843.50,140.99 844.50,141.11 845.50,140.77 846.50,141.11 847.50,140.98 848.50,140.19 849.50,140.81 850.50,140.25 851.50,140.83 852.50,140.57 853.50,141.07 854.50,140.28 855.50,141.20 856.50,140.31 857.50,140.33 858.50,140.29 859.50,140.41 860.50,141.27 861.50,141.11 862.50,141.19 863.50,140.46 864.50,140.96 865.50,141.07 866.50,141.01 867.50,140.56 868.50,141.29 869.50,141.08 870.50,141.07 871.50,140.72 872.50,140.89 873.50,141.31 874.50,141.14 875.50,141.18 876.50,141.69 877.50,141.26 878.50,141.76 879.50,141.01 880.50,141.54 881.50,141.76 882.50,141.09 883.50,141.79 884.50,141.38 885.50,141.71 886.50,141.68 887.50,141.16 888.50,141.93 889.50,141.18 890.50,141.02 891.50,141.27 892.50,140.84 893.50,140.82 894.50,141.43 895.50,140.72 896.50,141.13 897.50,141.44 898.50,140.98 899.50,141.32 900.50,141.32 901.50,140.64 902.50,140.54 903.50,141.24 904.50,141.32 905.50,141.29 906.50,141.14 907.50,140.92 908.50,141.34 909.50,141.10 910.50,141.09 911.50,141.20 912.50,140.30 913.50,140.95 914.50,140.76 915.50,140.15 916.50,140.36 917.50,140.79 918.50,140.59 919.50,140.61 920.50,140.34 921.50,140.63 922.50,140.97 923.50,141.11 924.50,140.73 925.50,140.96 926.50,140.38 927.50,140.50 928.50,140.99 929.50,141.32 930.50,140.68 931.50,140.77 932.50,141.18 933.50,141.03 934.50,140.90 935.50,140.95 936.50,141.23 937.50,141.60 938.50,140.97 939.50,141.59 940.50,140.84 941.50,140.99 942.50,141.38 943.50,140.69 944.50,140.97 945.50,140.78 946.50,140.83 947.50,141.46 948.50,140.72 949.50,141.27 950.50,141.45 951.50,140.79 952.50,141.41 953.50,140.87 954.50,141.32 955.50,141.13 956.50,140.90 957.50,141.43 958.50,141.23 959.50,140.83 960.50,141.06 961.50,140.75 962.50,140.71 963.50,141.32 964.50,141.32 965.50,140.45 966.50,141.17 967.50,140.93 968.50,140.19 969.50,140.26 970.50,140.57 971.50,141.01 972.50,141.00 973.50,140.40 974.50,140.62 975.50,141.14 976.50,140.48 977.50,140.44 978.50,140.82 979.50,141.16 980.50,141.43 981.50,141.52 982.50,140.73 983.50,140.97 984.50,140.99 985.50,141.52 986.50,141.38 987.50,141.94 988.50,141.67 989.50,141.70 990.50,141.79 991.50,141.32 992.50,142.01 993.50,141.98 994.50,141.94 995.50,141.90 996.50,141.29 997.50,141.18 998.50,141.49 999.50,141.86 1000.50,141.35 1001.50,142.04" fill="none" stroke="#000" stroke-width="3.0" stroke-linejoin="round" />
<polyline points="598.50,150.40 599.50,150.51 600.50,150.45 601.50,150.82 602.50,150.88 603.50,150.45 604.50,151.02 605.50,151.19 606.50,151.16 607.50,151.60 608.50,151.53 609.50,151.24 610.50,151.17 611.50,151.15 612.50,151.92 613.50,151.88 614.50,151.88 615.50,151.79 616.50,151.92 617.50,151.70 618.50,152.07 619.50,151.73 620.50,152.25 621.50,152.28 622.50,152.34 623.50,151.93 624.50,151.77 625.50,152.01 626.50,152.35 627.50,152.15 628.50,152.37 629.50,152.03 630.50,151.98 631.50,152.47 632.50,151.72 633.50,151.74 634.50,152.12 635.50,152.16 636.50,151.96 637.50,152.09 638.50,151.98 639.50,152.21 640.50,152.43 641.50,152.37 642.50,152.19 643.50,152.01 644.50,152.48 645.50,151.96 646.50,152.12 647.50,152.33 648.50,152.12 649.50,151.79 650.50,152.10 651.50,151.92 652.50,152.20 653.50,151.87 654.50,151.75 655.50,152.17 656.50,151.71 657.50,151.57 658.50,152.12 659.50,152.14 660.50,151.39 661.50,151.33 662.50,152.16 663.50,152.23 664.50,151.79 665.50,151.72 666.50,152.21 667.50,152.52 668.50,151.85 669.50,152.14 670.50,152.40 671.50,152.00 672.50,152.22 673.50,151.98 674.50,152.33 675.50,152.08 676.50,151.94 677.50,152.24 678.50,151.99 679.50,151.95 680.50,151.96 681.50,152.22 682.50,152.10 683.50,152.50 684.50,152.18 685.50,152.01 686.50,151.95 687.50,152.06 688.50,152.51 689.50,151.97 690.50,152.24 691.50,152.58 692.50,152.60 693.50,152.22 694.50,152.59 695.50,152.37 696.50,151.93 697.50,151.76 698.50,151.79 699.50,152.36 700.50,151.91 701.50,152.29 702.50,152.36 703.50,152.25 704.50,151.73 705.50,151.21 706.50,151.42 707.50,151.32 708.50,151.71 709.50,151.73 710.50,151.93 711.50,151.70 712.50,151.96 713.50,151.65 714.50,151.51 715.50,151.90 716.50,151.37 717.50,151.91 718.50,151.90 719.50,152.08 720.50,151.31 721.50,151.48 722.50,152.27 723.50,151.49 724.50,151.82 725.50,151.99 726.50,151.88 727.50,152.29 728.50,152.37 729.50,151.75 730.50,151.54 731.50,152.32 732.50,151.86 733.50,151.66 734.50,151.55 735.50,151.43 736.50,152.02 737.50,151.74 738.50,152.03 739.50,152.43 740.50,152.01 741.50,152.51 742.50,151.65 743.50,152.36 744.50,152.38 745.50,152.59 746.50,151.67 747.50,152.14 748.50,152.18 749.50,152.20 750.50,152.04 751.50,151.80 752.50,152.38 753.50,152.31 754.50,152.07 755.50,152.27 756.50,151.81 757.50,151.28 758.50,151.85 759.50,151.21 760.50,151.82 761.50,151.69 762.50,151.23 763.50,151.17 764.50,151.09 765.50,151.21 766.50,152.03 767.50,151.31 768.50,152.00 769.50,151.28 770.50,151.53 771.50,151.70 772.50,151.62 773.50,152.26 774.50,151.57 775.50,151.84 776.50,151.59 777.50,151.51 778.50,152.11 779.50,151.77 780.50,151.93 781.50,152.15 782.50,151.55 783.50,151.53 784.50,152.19 785.50,152.51 786.50,151.57 787.50,152.03 788.50,152.61 789.50,152.49 790.50,152.70 791.50,152.29 792.50,152.78 793.50,151.91 794.50,152.38 795.50,152.80 796.50,152.38 797.50,152.46 798.50,152.49 799.50,152.43 800.50,152.86 801.50,153.01 802.50,152.25 803.50,152.31 804.50,152.75 805.50,152.65 806.50,152.67 807.50,152.48 808.50,152.65 809.50,152.53 810.50,152.26 811.50,151.87 812.50,151.62 813.50,152.36 814.50,152.33 815.50,152.35 816.50,151.71 817.50,152.17 818.50,152.37 819.50,151.65 820.50,151.47 821.50,151.63 822.50,151.69 823.50,152.16 824.50,152.31 825.50,152.31 826.50,152.18 827.50,152.46 828.50,152.45 829.50,151.91 830.50,152.38 831.50,152.17 832.50,151.68 833.50,152.01 834.50,151.59 835.50,151.81 836.50,152.23 837.50,151.44 838.50,151.98 839.50,151.91 840.50,151.78 841.50,151.60 842.50,152.11 843.50,151.96 844.50,151.78 845.50,152.13 846.50,152.46 847.50,151.90 848.50,152.64 849.50,151.97 850.50,152.38 851.50,152.29 852.50,152.78 853.50,152.81 854.50,152.63 855.50,152.16 856.50,152.15 857.50,152.61 858.50,152.24 859.50,152.32 860.50,152.35 861.50,151.76 862.50,151.90 863.50,152.42 864.50,151.76 865.50,152.24 866.50,151.51 867.50,151.35 868.50,151.82 869.50,151.58 870.50,151.89 871.50,152.05 872.50,151.32 873.50,151.77 874.50,151.64 875.50,152.16 876.50,152.09 877.50,152.12 878.50,151.96 879.50,151.54 880.50,151.79 881.50,151.69 882.50,151.49 883.50,151.38 884.50,151.72 885.50,151.95 886.50,151.28 887.50,151.39 888.50,151.19 889.50,151.41 890.50,151.45 891.50,151.19 892.50,151.78 893.50,151.53 894.50,152.05 895.50,151.54 896.50,152.10 897.50,152.41 898.50,151.67 899.50,151.93 900.50,152.59 901.50,152.07 902.50,152.04 903.50,151.90 904.50,152.61 905.50,152.12 906.50,152.68 907.50,152.36 908.50,151.97 909.50,152.77 910.50,152.65 911.50,152.48 912.50,152.31 913.50,152.44 914.50,152.61 915.50,151.84 916.50,151.87 917.50,152.38 918.50,152.03 919.50,152.59 920.50,152.44 921.50,152.13 922.50,151.78 923.50,152.23 924.50,152.23 925.50,152.21 926.50,152.40 927.50,152.09 928.50,152.50 929.50,152.18 930.50,151.72 931.50,152.35 932.50,151.67 933.50,152.37 934.50,152.36 935.50,151.59 936.50,151.56 937.50,152.04 938.50,151.77 939.50,151.67 940.50,152.04 941.50,151.63 942.50,151.44 943.50,151.89 944.50,152.25 945.50,152.38 946.50,151.57 947.50,152.27 948.50,151.91 949.50,152.62 950.50,152.10 951.50,151.87 952.50,152.16 953.50,152.39 954.50,152.10 955.50,152.73 956.50,152.32 957.50,152.75 958.50,152.25 959.50,152.51 960.50,152.68 961.50,152.21 962.50,152.29 963.50,152.82 964.50,152.36 965.50,152.30 966.50,152.56 967.50,152.62 968.50,152.79 969.50,152.49 970.50,152.77 971.50,152.81 972.50,152.85 973.50,152.85 974.50,152.62 975.50,152.62 976.50,152.31 977.50,152.02 978.50,152.82 979.50,152.28 980.50,152.18 981.50,152.35 982.50,152.51 983.50,152.53 984.50,151.76 985.50,152.36 986.50,152.46 987.50,152.43 988.50,152.34 989.50,151.91 990.50,152.18 991.50,151.84 992.50,152.06 993.50,152.18 994.50,151.56 995.50,151.31 996.50,151.94 997.50,152.15 998.50,152.14 999.50,151.73 1000.50,151.76 1001.50,151.47" fill="none" stroke="#000" stroke-width="3.0" stroke-linejoin="round" />
<polyline points="598.50,160.82 599.50,160.39 600.50,160.32 601.50,160.90 602.50,160.47 603.50,160.77 604.50,161.30 605.50,161.30 606.50,160.56 607.50,160.53 608.50,160.67 609.50,161.26 610.50,160.45 611.50,160.64 612.50,160.51 613.50,160.53 614.50,160.92 615.50,160.57 616.50,160.81 617.50,161.14 618.50,161.15 619.50,160.87 620.50,161.27 621.50,161.10 622.50,161.40 623.50,160.87 624.50,161.04 625.50,161.31 626.50,161.73 627.50,161.45 628.50,161.35 629.50,161.17 630.50,161.23 631.50,161.20 632.50,161.99 633.50,161.90 634.50,161.91 635.50,161.54 636.50,161.71 637.50,161.28 638.50,161.44 639.50,161.08 640.50,161.33 641.50,161.14 642.50,160.96 643.50,161.76 644.50,160.92 645.50,161.62 646.50,161.50 647.50,160.88 648.50,161.28 649.50,161.79 650.50,161.78 651.50,161.36 652.50,161.57 653.50,161.51 654.50,161.10 655.50,161.35 656.50,161.39 657.50,161.17 658.50,161.58 659.50,161.19 660.50,161.47 661.50,160.76 662.50,161.12 663.50,160.69 664.50,161.27 665.50,161.48 666.50,161.14 667.50,161.15 668.50,161.21 669.50,160.82 670.50,160.99 671.50,161.21 672.50,161.31 673.50,161.08 674.50,161.22 675.50,161.13 676.50,161.40 677.50,161.58 678.50,161.29 679.50,161.70 680.50,161.91 681.50,161.65 682.50,162.13 683.50,161.49 684.50,162.12 685.50,161.40 686.50,161.60 687.50,162.05 688.50,161.26 689.50,161.84 690.50,162.08 691.50,162.14 692.50,161.87 693.50,161.52 694.50,161.49 695.50,161.78 696.50,161.20 697.50,161.16 698.50,162.01 699.50,161.75 700.50,161.29 701.50,161.55 702.50,161.42 703.50,161.99 704.50,161.41 705.50,161.84 706.50,161.84 707.50,161.40 708.50,161.31 709.50,161.55 710.50,161.39 711.50,161.55 712.50,161.23 713.50,161.65 714.50,161.23 715.50,160.90 716.50,161.49 717.50,161.57 718.50,161.31 719.50,161.15 720.50,161.45 721.50,161.49 722.50,160.56 723.50,161.04 724.50,160.58 725.50,160.92 726.50,160.85 727.50,161.10 728.50,161.35 729.50,161.57 730.50,161.01 731.50,160.80 732.50,161.82 733.50,161.64 734.50,161.43 735.50,161.01 736.50,160.97 737.50,161.86 738.50,161.46 739.50,161.79 740.50,161.72 741.50,161.68 742.50,161.73 743.50,161.17 744.50,161.15 745.50,161.34 746.50,161.67 747.50,161.70 748.50,161.66 749.50,161.49 750.50,161.40 751.50,161.13 752.50,161.62 753.50,161.62 754.50,161.49 755.50,161.71 756.50,161.96 757.50,161.93 758.50,161.08 759.50,161.25 760.50,161.56 761.50,161.61 762.50,161.17 763.50,161.77 764.50,161.26 765.50,161.51 766.50,160.75 767.50,160.93 768.50,160.62 769.50,161.35 770.50,161.04 771.50,161.43 772.50,161.06 773.50,160.76 774.50,160.79 775.50,160.80 776.50,160.64 777.50,160.56 778.50,161.13 779.50,160.82 780.50,160.99 781.50,161.28 782.50,160.88 783.50,161.09 784.50,161.00 785.50,161.04 786.50,161.41 787.50,160.86 788.50,161.19 789.50,160.91 790.50,161.49 791.50,161.13 792.50,161.81 793.50,161.33 794.50,161.52 795.50,161.40 796.50,161.71 797.50,161.61 798.50,161.57 799.50,160.99 800.50,161.13 801.50,161.77 802.50,161.47 803.50,162.07 804.50,161.77 805.50,161.99 806.50,161.95 807.50,162.20 808.50,161.92 809.50,162.21 810.50,161.71 811.50,161.56 812.50,161.39 813.50,161.52 814.50,162.14 815.50,161.87 816.50,161.22 817.50,161.16 818.50,161.55 819.50,161.59 820.50,161.36 821.50,160.97 822.50,161.18 823.50,161.76 824.50,161.58 825.50,161.65 826.50,161.08 827.50,161.47 828.50,161.00 829.50,161.11 830.50,161.77 831.50,161.04 832.50,161.14 833.50,161.08 834.50,161.75 835.50,161.59 836.50,161.50 837.50,161.78 838.50,161.40 839.50,161.86 840.50,161.72 841.50,161.24 842.50,161.18 843.50,161.47 844.50,161.38 845.50,161.72 846.50,161.59 847.50,161.68 848.50,161.55 849.50,161.23 850.50,161.72 851.50,161.99 852.50,161.67 853.50,161.78 854.50,161.34 855.50,161.26 856.50,161.63 857.50,161.82 858.50,161.99 859.50,161.76 860.50,161.86 861.50,161.42 862.50,161.39 863.50,161.47 864.50,161.65 865.50,161.56 866.50,161.44 867.50,161.60 868.50,161.56 869.50,162.00 870.50,162.06 871.50,162.07 872.50,161.76 873.50,160.99 874.50,161.17 875.50,161.89 876.50,161.55 877.50,161.68 878.50,160.99 879.50,161.01 880.50,160.86 881.50,161.27 882.50,161.11 883.50,161.21 884.50,160.87 885.50,160.76 886.50,161.11 887.50,161.65 888.50,161.37 889.50,161.28 890.50,160.76 891.50,161.11 892.50,161.03 893.50,161.27 894.50,161.03 895.50,161.41 896.50,160.87 897.50,161.31 898.50,160.58 899.50,160.72 900.50,161.38 901.50,161.45 902.50,160.92 903.50,160.84 904.50,161.64 905.50,161.31 906.50,160.85 907.50,161.80 908.50,161.43 909.50,161.21 910.50,161.47 911.50,161.38 912.50,161.63 913.50,161.50 914.50,161.49 915.50,161.86 916.50,161.45 917.50,161.97 918.50,161.88 919.50,162.07 920.50,161.26 921.50,161.94 922.50,161.77 923.50,161.21 924.50,161.91 925.50,161.48 926.50,161.13 927.50,161.14 928.50,161.91 929.50,161.70 930.50,161.12 931.50,161.78 932.50,160.92 933.50,161.58 934.50,161.52 935.50,161.76 936.50,161.80 937.50,161.62 938.50,161.73 939.50,161.35 940.50,161.81 941.50,161.29 942.50,161.57 943.50,161.58 944.50,161.21 945.50,161.60 946.50,161.48 947.50,160.90 948.50,161.31 949.50,161.19 950.50,161.29 951.50,160.72 952.50,161.40 953.50,161.11 954.50,161.48 955.50,161.01 956.50,160.83 957.50,161.32 958.50,161.54 959.50,161.74 960.50,161.56 961.50,161.95 962.50,161.29 963.50,161.30 964.50,161.63 965.50,161.93 966.50,162.07 967.50,161.40 968.50,161.95 969.50,161.72 970.50,161.90 971.50,161.47 972.50,161.53 973.50,161.99 974.50,161.68 975.50,162.30 976.50,161.82 977.50,161.65 978.50,161.47 979.50,161.80 980.50,161.78 981.50,161.52 982.50,162.23 983.50,161.77 984.50,162.03 985.50,161.95 986.50,162.10 987.50,161.36 988.50,162.22 989.50,161.84 990.50,161.39 991.50,161.80 992.50,161.24 993.50,161.57 994.50,161.21 995.50,161.12 996.50,161.48 997.50,161.82 998.50,161.69 999.50,161.83 1000.50,161.63 1001.50,161.43" fill="none" stroke="#000" stroke-width="3.0" stroke-linejoin="round" />
<polyline points="598.50,168.66 599.50,168.82 600.50,169.25 601.50,169.39 602.50,168.63 603.50,168.81 604.50,169.55 605.50,168.79 606.50,169.33 607.50,169.01 608.50,169.32 609.50,169.53 610.50,169.24 611.50,169.05 612.50,168.97 613.50,169.26 614.50,169.27 615.50,169.05 616.50,169.11 617.50,169.20 618.50,168.94 619.50,168.88 620.50,169.31 621.50,168.88 622.50,169.42 623.50,169.67 624.50,169.74 625.50,169.22 626.50,169.43 627.50,169.98 628.50,169.45 629.50,170.13 630.50,169.36 631.50,170.03 632.50,169.24 633.50,169.87 634.50,170.01 635.50,169.75 636.50,169.82 637.50,170.08 638.50,170.14 639.50,169.30 640.50,169.62 641.50,169.11 642.50,169.42 643.50,169.17 644.50,169.16 645.50,169.61 646.50,169.06 647.50,169.12 648.50,168.96 649.50,169.76 650.50,169.18 651.50,169.00 652.50,169.55 653.50,169.63 654.50,169.53 655.50,169.43 656.50,169.40 657.50,169.56 658.50,169.12 659.50,169.62 660.50,169.43 661.50,169.56 662.50,169.56 663.50,169.47 664.50,169.11 665.50,169.08 666.50,169.27 667.50,169.09 668.50,168.53 669.50,169.41 670.50,168.69 671.50,168.99 672.50,168.97 673.50,168.64 674.50,169.15 675.50,169.20 676.50,169.46 677.50,169.30 678.50,169.03 679.50,169.33 680.50,169.76 681.50,169.46 682.50,169.70 683.50,168.89 684.50,169.58 685.50,169.11 686.50,169.06 687.50,169.23 688.50,169.07 689.50,168.97 690.50,169.08 691.50,169.09 692.50,169.09 693.50,169.63 694.50,168.90 695.50,169.01 696.50,168.86 697.50,169.31 698.50,169.03 699.50,169.34 700.50,169.05 701.50,169.01 702.50,169.31 703.50,168.89 704.50,169.70 705.50,169.38 706.50,169.20 707.50,169.34 708.50,169.72 709.50,169.24 710.50,169.11 711.50,168.90 712.50,169.03 713.50,169.38 714.50,169.18 715.50,168.81 716.50,169.39 717.50,168.59 718.50,168.79 719.50,169.19 720.50,169.31 721.50,168.85 722.50,168.40 723.50,168.96 724.50,168.84 725.50,168.47 726.50,168.82 727.50,169.39 728.50,168.58 729.50,168.77 730.50,168.80 731.50,169.47 732.50,169.02 733.50,169.43 734.50,169.45 735.50,168.82 736.50,169.27 737.50,168.97 738.50,169.66 739.50,169.37 740.50,169.25 741.50,169.70 742.50,169.72 743.50,168.97 744.50,169.01 745.50,169.25 746.50,169.25 747.50,169.39 748.50,169.39 749.50,169.96 750.50,169.68 751.50,169.99 752.50,169.67 753.50,169.31 754.50,169.67 755.50,169.28 756.50,169.71 757.50,169.28 758.50,170.06 759.50,169.43 760.50,170.01 761.50,169.31 762.50,169.27 763.50,169.28 764.50,169.82 765.50,169.78 766.50,169.65 767.50,169.44 768.50,168.97 769.50,169.02 770.50,168.78 771.50,169.64 772.50,168.82 773.50,169.39 774.50,168.66 775.50,168.94 776.50,169.26 777.50,168.85 778.50,168.76 779.50,169.60 780.50,169.01 781.50,168.76 782.50,169.48 783.50,169.78 784.50,169.36 785.50,168.87 786.50,169.27 787.50,169.47 788.50,169.11 789.50,169.29 790.50,169.61 791.50,169.53 792.50,169.70 793.50,169.82 794.50,169.39 795.50,169.86 796.50,169.00 797.50,169.41 798.50,169.58 799.50,169.85 800.50,169.41 801.50,169.40 802.50,169.88 803.50,169.48 804.50,169.09 805.50,169.51 806.50,169.35 807.50,169.76 808.50,169.93 809.50,169.17 810.50,169.44 811.50,170.01 812.50,169.90 813.50,169.85 814.50,169.43 815.50,169.95 816.50,169.80 817.50,169.73 818.50,169.40 819.50,169.45 820.50,168.89 821.50,168.75 822.50,168.68 823.50,168.68 824.50,169.10 825.50,169.51 826.50,169.12 827.50,169.31 828.50,169.27 829.50,169.46 830.50,168.79 831.50,169.01 832.50,169.45 833.50,168.86 834.50,169.23 835.50,168.96 836.50,168.70 837.50,168.75 838.50,168.91 839.50,168.58 840.50,169.43 841.50,168.89 842.50,168.77 843.50,169.33 844.50,168.53 845.50,169.28 846.50,168.97 847.50,168.62 848.50,168.93 849.50,169.54 850.50,168.61 851.50,168.89 852.50,168.81 853.50,169.26 854.50,168.91 855.50,169.60 856.50,169.16 857.50,169.79 858.50,169.00 859.50,169.15 860.50,168.98 861.50,169.02 862.50,169.18 863.50,169.59 864.50,169.56 865.50,169.73 866.50,169.22 867.50,169.57 868.50,169.93 869.50,169.24 870.50,169.12 871.50,169.04 872.50,169.78 873.50,169.42 874.50,169.25 875.50,169.23 876.50,168.79 877.50,168.92 878.50,169.39 879.50,168.93 880.50,169.19 881.50,169.59 882.50,168.87 883.50,169.16 884.50,169.46 885.50,169.45 886.50,169.53 887.50,169.62 888.50,169.28 889.50,168.93 890.50,169.21 891.50,169.62 892.50,168.88 893.50,168.96 894.50,168.85 895.50,169.52 896.50,168.73 897.50,168.78 898.50,169.24 899.50,169.37 900.50,169.07 901.50,169.41 902.50,169.40 903.50,169.11 904.50,168.83 905.50,169.49 906.50,169.47 907.50,169.86 908.50,169.65 909.50,169.06 910.50,169.24 911.50,169.40 912.50,169.85 913.50,169.47 914.50,169.42 915.50,169.39 916.50,169.48 917.50,169.71 918.50,169.92 919.50,170.04 920.50,169.28 921.50,169.71 922.50,170.11 923.50,169.50 924.50,169.21 925.50,169.71 926.50,169.86 927.50,169.05 928.50,169.08 929.50,169.29 930.50,169.33 931.50,169.07 932.50,169.04 933.50,169.37 934.50,169.90 935.50,169.50 936.50,169.20 937.50,169.87 938.50,169.18 939.50,169.02 940.50,168.98 941.50,168.86 942.50,169.72 943.50,169.31 944.50,169.72 945.50,169.24 946.50,168.74 947.50,169.00 948.50,168.95 949.50,168.73 950.50,168.63 951.50,169.23 952.50,169.40 953.50,169.47 954.50,168.78 955.50,169.17 956.50,168.83 957.50,169.45 958.50,169.55 959.50,168.69 960.50,168.91 961.50,169.63 962.50,169.78 963.50,169.68 964.50,168.93 965.50,169.49 966.50,169.68 967.50,169.50 968.50,169.48 969.50,169.71 970.50,169.00 971.50,169.50 972.50,169.89 973.50,169.45 974.50,169.25 975.50,169.01 976.50,169.75 977.50,169.51 978.50,169.79 979.50,169.79 980.50,169.51 981.50,169.67 982.50,169.63 983.50,169.55 984.50,169.23 985.50,169.49 986.50,169.60 987.50,169.08 988.50,169.59 989.50,169.40 990.50,169.16 991.50,169.20 992.50,169.66 993.50,168.78 994.50,168.72 995.50,169.14 996.50,168.71 997.50,169.42 998.50,169.44 999.50,168.84 1000.50,168.80 1001.50,169.08" fill="none" stroke="#000" stroke-width="3.0" stroke-linejoin="round" />
<polyline points="598.50,176.52 599.50,175.87 600.50,176.32 601.50,175.87 602.50,175.68 603.50,175.85 604.50,176.23 605.50,175.60 606.50,176.08 607.50,175.73 608.50,175.52 609.50,175.74 610.50,175.66 611.50,175.71 612.50,176.10 613.50,176.11 614.50,175.40 615.50,176.14 616.50,175.76 617.50,176.11 618.50,175.98 619.50,175.70 620.50,175.45 621.50,176.15 622.50,176.25 623.50,175.91 624.50,175.44 625.50,176.18 626.50,176.16 627.50,176.31 628.50,176.43 629.50,176.46 630.50,176.24 631.50,175.91 632.50,176.07 633.50,176.05 634.50,176.30 635.50,176.17 636.50,176.37 637.50,176.05 638.50,176.12 639.50,176.49 640.50,176.31 641.50,176.45 642.50,176.21 643.50,175.64 644.50,175.94 645.50,175.82 646.50,175.80 647.50,175.67 648.50,175.67 649.50,176.05 650.50,176.36 651.50,176.44 652.50,176.55 653.50,176.16 654.50,175.58 655.50,175.74 656.50,175.59 657.50,176.38 658.50,175.80 659.50,176.18 660.50,175.87 661.50,175.97 662.50,176.20 663.50,175.98 664.50,175.37 665.50,175.90 666.50,175.60 667.50,176.21 668.50,175.50 669.50,175.47 670.50,176.16 671.50,175.67 672.50,175.36 673.50,176.10 674.50,176.25 675.50,175.86 676.50,175.57 677.50,176.30 678.50,175.81 679.50,175.75 680.50,175.58 681.50,176.44 682.50,175.82 683.50,175.73 684.50,175.99 685.50,176.33 686.50,176.64 687.50,175.86 688.50,176.28 689.50,175.93 690.50,176.53 691.50,176.16 692.50,176.37 693.50,176.54 694.50,176.25 695.50,176.20 696.50,175.76 697.50,175.93 698.50,176.48 699.50,176.57 700.50,176.41 701.50,175.90 702.50,176.61 703.50,176.72 704.50,176.73 705.50,176.63 706.50,176.53 707.50,176.20 708.50,176.20 709.50,176.00 710.50,176.42 711.50,176.08 712.50,176.51 713.50,175.89 714.50,175.88 715.50,175.66 716.50,175.81 717.50,176.27 718.50,176.29 719.50,176.36 720.50,175.45 721.50,176.09 722.50,175.96 723.50,175.74 724.50,176.34 725.50,176.09 726.50,175.73 727.50,176.26 728.50,175.89 729.50,175.93 730.50,175.95 731.50,175.96 732.50,175.52 733.50,176.33 734.50,175.81 735.50,175.96 736.50,175.69 737.50,176.08 738.50,175.58 739.50,175.54 740.50,175.71 741.50,176.38 742.50,176.19 743.50,176.23 744.50,175.61 745.50,175.98 746.50,176.28 747.50,176.30 748.50,176.03 749.50,175.68 750.50,176.01 751.50,176.60 752.50,176.57 753.50,176.32 754.50,176.07 755.50,176.34 756.50,176.32 757.50,176.21 758.50,176.60 759.50,176.30 760.50,175.81 761.50,176.42 762.50,176.36 763.50,175.73 764.50,176.11 765.50,176.52 766.50,176.15 767.50,176.14 768.50,175.90 769.50,175.81 770.50,176.34 771.50,175.61 772.50,175.77 773.50,175.38 774.50,175.79 775.50,175.93 776.50,175.96 777.50,176.25 778.50,175.54 779.50,175.49 780.50,175.64 781.50,175.63 782.50,176.21 783.50,175.51 784.50,175.78 785.50,176.31 786.50,175.72 787.50,175.76 788.50,175.72 789.50,175.62 790.50,175.61 791.50,176.13 792.50,175.31 793.50,175.36 794.50,176.11 795.50,176.04 796.50,175.76 797.50,175.84 798.50,175.86 799.50,175.67 800.50,175.89 801.50,175.85 802.50,176.13 803.50,175.92 804.50,176.21 805.50,175.70 806.50,176.69 807.50,175.75 808.50,176.23 809.50,176.16 810.50,175.92 811.50,176.77 812.50,176.25 813.50,175.98 814.50,176.11 815.50,175.95 816.50,176.29 817.50,176.72 818.50,176.66 819.50,175.90 820.50,176.35 821.50,176.18 822.50,176.37 823.50,175.74 824.50,175.62 825.50,175.68 826.50,176.46 827.50,175.61 828.50,175.60 829.50,176.02 830.50,175.62 831.50,175.74 832.50,176.52 833.50,175.75 834.50,176.33 835.50,176.41 836.50,176.01 837.50,175.99 838.50,175.74 839.50,175.85 840.50,176.04 841.50,176.06 842.50,176.01 843.50,175.82 844.50,176.34 845.50,175.91 846.50,175.83 847.50,175.93 848.50,176.31 849.50,176.09 850.50,176.25 851.50,176.36 852.50,175.93 853.50,176.33 854.50,175.75 855.50,176.17 856.50,176.19 857.50,176.16 858.50,175.97 859.50,176.64 860.50,176.21 861.50,176.28 862.50,176.02 863.50,176.77 864.50,176.77 865.50,176.08 866.50,176.28 867.50,176.16 868.50,176.05 869.50,176.67 870.50,176.43 871.50,176.70 872.50,176.46 873.50,176.08 874.50,176.51 875.50,175.82 876.50,176.28 877.50,176.20 878.50,175.75 879.50,175.96 880.50,176.18 881.50,175.78 882.50,175.73 883.50,176.25 884.50,176.60 885.50,176.20 886.50,176.59 887.50,176.06 888.50,175.65 889.50,175.68 890.50,175.94 891.50,176.32 892.50,176.23 893.50,176.36 894.50,175.94 895.50,176.07 896.50,175.84 897.50,175.44 898.50,175.80 899.50,175.53 900.50,176.06 901.50,176.07 902.50,175.49 903.50,175.42 904.50,175.60 905.50,175.36 906.50,175.57 907.50,176.37 908.50,176.37 909.50,175.91 910.50,176.40 911.50,175.74 912.50,176.57 913.50,176.16 914.50,176.22 915.50,175.90 916.50,175.63 917.50,176.17 918.50,176.26 919.50,176.33 920.50,176.39 921.50,176.53 922.50,175.63 923.50,176.27 924.50,175.68 925.50,176.43 926.50,176.11 927.50,175.59 928.50,175.98 929.50,176.43 930.50,176.48 931.50,176.53 932.50,176.12 933.50,176.30 934.50,176.30 935.50,176.11 936.50,176.39 937.50,175.77 938.50,175.83 939.50,176.19 940.50,176.30 941.50,176.51 942.50,175.56 943.50,176.46 944.50,175.74 945.50,175.77 946.50,176.07 947.50,176.33 948.50,175.52 949.50,175.68 950.50,176.18 951.50,176.11 952.50,175.68 953.50,175.54 954.50,176.09 955.50,175.51 956.50,175.70 957.50,175.38 958.50,175.62 959.50,175.88 960.50,175.97 961.50,176.28 962.50,176.16 963.50,175.81 964.50,176.00 965.50,175.88 966.50,175.79 967.50,175.84 968.50,176.65 969.50,176.50 970.50,176.56 971.50,176.43 972.50,175.99 973.50,176.47 974.50,176.27 975.50,176.53 976.50,176.33 977.50,176.40 978.50,175.91 979.50,176.66 980.50,176.52 981.50,176.40 982.50,176.12 983.50,176.54 984.50,176.31 985.50,176.13 986.50,176.69 987.50,176.63 988.50,176.74 989.50,176.92 990.50,176.32 991.50,176.50 992.50,175.95 993.50,176.51 994.50,176.63 995.50,176.19 996.50,175.75 997.50,176.40 998.50,176.04 999.50,175.80 1000.50,176.33 1001.50,175.95" fill="none" stroke="#000" stroke-width="3.0" stroke-linejoin="round" />
<polyline points="598.50,182.35 599.50,182.18 600.50,181.38 601.50,182.09 602.50,182.04 603.50,181.38 604.50,182.12 605.50,181.47 606.50,181.51 607.50,181.67 608.50,181.67 609.50,181.69 610.50,181.20 611.50,181.38 612.50,181.01 613.50,181.14 614.50,181.35 615.50,180.93 616.50,181.20 617.50,181.67 618.50,181.04 619.50,181.31 620.50,180.92 621.50,181.63 622.50,180.99 623.50,181.08 624.50,181.64 625.50,181.34 626.50,181.45 627.50,181.50 628.50,181.38 629.50,181.30 630.50,181.02 631.50,181.01 632.50,181.07 633.50,181.11 634.50,181.19 635.50,181.77 636.50,181.11 637.50,181.04 638.50,181.20 639.50,181.10 640.50,181.82 641.50,181.98 642.50,181.83 643.50,182.05 644.50,181.68 645.50,181.62 646.50,181.58 647.50,181.87 648.50,181.47 649.50,181.76 650.50,181.63 651.50,181.91 652.50,182.10 653.50,181.87 654.50,181.32 655.50,181.75 656.50,181.85 657.50,181.63 658.50,181.12 659.50,181.11 660.50,181.52 661.50,181.67 662.50,181.42 663.50,181.62 664.50,181.42 665.50,181.68 666.50,181.06 667.50,181.66 668.50,181.57 669.50,180.93 670.50,181.04 671.50,181.10 672.50,181.58 673.50,181.42 674.50,180.84 675.50,181.49 676.50,181.05 677.50,181.59 678.50,180.98 679.50,180.78 680.50,180.99 681.50,181.10 682.50,181.04 683.50,181.13 684.50,180.69 685.50,180.85 686.50,180.61 687.50,181.56 688.50,181.07 689.50,180.89 690.50,180.79 691.50,181.26 692.50,180.69 693.50,180.88 694.50,181.43 695.50,181.33 696.50,181.55 697.50,181.73 698.50,181.24 699.50,181.71 700.50,181.78 701.50,181.82 702.50,181.54 703.50,181.78 704.50,181.05 705.50,181.20 706.50,181.58 707.50,181.55 708.50,181.59 709.50,181.37 710.50,180.99 711.50,181.25 712.50,181.11 713.50,181.56 714.50,181.12 715.50,181.64 716.50,181.41 717.50,181.26 718.50,181.48 719.50,181.76 720.50,181.21 721.50,180.93 722.50,181.74 723.50,181.17 724.50,181.76 725.50,181.34 726.50,181.26 727.50,181.68 728.50,180.94 729.50,181.67 730.50,181.06 731.50,181.53 732.50,181.69 733.50,181.54 734.50,181.02 735.50,181.63 736.50,181.18 737.50,180.94 738.50,181.00 739.50,180.73 740.50,181.28 741.50,181.11 742.50,181.26 743.50,181.61 744.50,181.21 745.50,180.83 746.50,181.44 747.50,180.97 748.50,181.52 749.50,181.51 750.50,181.46 751.50,181.71 752.50,181.16 753.50,181.46 754.50,181.33 755.50,181.35 756.50,181.27 757.50,181.38 758.50,182.01 759.50,182.13 760.50,181.77 761.50,181.92 762.50,181.16 763.50,181.48 764.50,181.86 765.50,182.04 766.50,181.19 767.50,182.13 768.50,182.11 769.50,181.24 770.50,181.56 771.50,182.07 772.50,181.51 773.50,181.33 774.50,181.75 775.50,181.79 776.50,181.93 777.50,181.37 778.50,181.63 779.50,181.29 780.50,182.01 781.50,181.95 782.50,181.95 783.50,181.10 784.50,181.10 785.50,181.70 786.50,181.31 787.50,181.65 788.50,181.42 789.50,180.78 790.50,180.84 791.50,181.44 792.50,180.98 793.50,181.10 794.50,181.33 795.50,180.78 796.50,180.84 797.50,181.25 798.50,180.80 799.50,181.16 800.50,181.23 801.50,180.96 802.50,180.97 803.50,181.67 804.50,181.61 805.50,181.43 806.50,181.40 807.50,181.87 808.50,181.43 809.50,181.14 810.50,181.46 811.50,181.44 812.50,181.50 813.50,181.29 814.50,181.45 815.50,180.98 816.50,181.62 817.50,181.84 818.50,181.69 819.50,181.81 820.50,181.96 821.50,181.49 822.50,181.43 823.50,181.76 824.50,181.25 825.50,181.34 826.50,181.64 827.50,181.08 828.50,182.01 829.50,181.95 830.50,181.52 831.50,181.60 832.50,181.29 833.50,181.37 834.50,180.97 835.50,181.18 836.50,180.98 837.50,181.15 838.50,181.36 839.50,181.52 840.50,180.71 841.50,180.73 842.50,181.20 843.50,181.50 844.50,181.11 845.50,181.06 846.50,181.41 847.50,180.76 848.50,180.57 849.50,181.08 850.50,181.19 851.50,180.74 852.50,181.33 853.50,181.28 854.50,181.52 855.50,181.03 856.50,180.78 857.50,180.96 858.50,180.97 859.50,181.08 860.50,181.40 861.50,181.03 862.50,181.75 863.50,180.94 864.50,181.65 865.50,181.03 866.50,181.73 867.50,181.05 868.50,181.39 869.50,181.11 870.50,181.61 871.50,181.54 872.50,181.69 873.50,181.39 874.50,181.19 875.50,181.38 876.50,181.94 877.50,181.62 878.50,181.31 879.50,181.23 880.50,181.69 881.50,182.00 882.50,181.84 883.50,181.94 884.50,181.20 885.50,181.56 886.50,181.39 887.50,181.29 888.50,181.97 889.50,181.85 890.50,181.31 891.50,181.91 892.50,181.11 893.50,181.70 894.50,181.31 895.50,181.26 896.50,181.81 897.50,181.61 898.50,181.51 899.50,181.48 900.50,181.47 901.50,181.65 902.50,181.54 903.50,181.21 904.50,181.46 905.50,181.30 906.50,181.09 907.50,180.98 908.50,181.80 909.50,181.31 910.50,181.41 911.50,181.05 912.50,181.43 913.50,181.77 914.50,181.58 915.50,181.53 916.50,181.44 917.50,180.89 918.50,180.90 919.50,181.01 920.50,181.53 921.50,181.79 922.50,181.93 923.50,181.74 924.50,181.77 925.50,181.27 926.50,181.18 927.50,181.92 928.50,181.44 929.50,181.86 930.50,182.13 931.50,181.32 932.50,182.05 933.50,181.59 934.50,181.82 935.50,181.67 936.50,182.05 937.50,181.90 938.50,182.10 939.50,181.87 940.50,181.93 941.50,181.88 942.50,181.54 943.50,181.54 944.50,181.52 945.50,181.06 946.50,180.96 947.50,181.20 948.50,181.29 949.50,180.93 950.50,181.55 951.50,181.14 952.50,181.32 953.50,181.74 954.50,181.67 955.50,181.26 956.50,181.29 957.50,180.83 958.50,180.82 959.50,181.32 960.50,180.80 961.50,181.42 962.50,180.84 963.50,180.91 964.50,181.42 965.50,180.79 966.50,181.38 967.50,180.63 968.50,181.09 969.50,181.04 970.50,180.85 971.50,180.94 972.50,181.47 973.50,180.86 974.50,180.88 975.50,181.14 976.50,181.14 977.50,181.20 978.50,181.34 979.50,181.43 980.50,181.13 981.50,181.44 982.50,181.51 983.50,181.80 984.50,181.26 985.50,181.15 986.50,181.36 987.50,181.82 988.50,181.47 989.50,181.36 990.50,181.54 991.50,181.06 992.50,181.23 993.50,181.87 994.50,181.41 995.50,181.56 996.50,180.99 997.50,180.96 998.50,181.83 999.50,180.93 1000.50,181.60 1001.50,180.96" fill="none" stroke="#000" stroke-width="3.0" stroke-linejoin="round" />
<polyline points="598.50,185.94 599.50,185.69 600.50,185.45 601.50,185.23 602.50,186.05 603.50,185.77 604.50,185.23 605.50,185.55 606.50,185.65 607.50,185.83 608.50,185.20 609.50,185.23 610.50,185.10 611.50,185.51 612.50,185.86 613.50,185.69 614.50,185.12 615.50,185.37 616.50,185.11 617.50,185.22 618.50,185.58 619.50,185.27 620.50,185.42 621.50,185.41 622.50,185.61 623.50,186.06 624.50,185.44 625.50,185.82 626.50,185.60 627.50,185.47 628.50,185.46 629.50,185.92 630.50,185.95 631.50,185.81 632.50,185.93 633.50,185.73 634.50,185.27 635.50,185.18 636.50,185.48 637.50,185.50 638.50,185.66 639.50,185.77 640.50,185.65 641.50,185.83 642.50,185.53 643.50,185.54 644.50,185.67 645.50,185.38 646.50,185.69 647.50,185.78 648.50,185.43 649.50,185.27 650.50,185.32 651.50,185.56 652.50,185.52 653.50,185.45 654.50,185.34 655.50,185.69 656.50,185.63 657.50,185.88 658.50,185.91 659.50,184.96 660.50,185.36 661.50,185.71 662.50,185.52 663.50,185.62 664.50,185.28 665.50,185.44 666.50,185.95 667.50,185.79 668.50,186.04 669.50,186.12 670.50,186.16 671.50,186.14 672.50,186.23 673.50,186.24 674.50,186.29 675.50,185.80 676.50,185.80 677.50,185.84 678.50,186.16 679.50,186.36 680.50,186.04 681.50,185.77 682.50,185.40 683.50,185.41 684.50,185.32 685.50,185.36 686.50,185.18 687.50,185.55 688.50,185.42 689.50,186.04 690.50,185.22 691.50,185.14 692.50,185.93 693.50,185.94 694.50,185.52 695.50,185.54 696.50,185.33 697.50,185.39 698.50,185.27 699.50,185.08 700.50,185.95 701.50,185.83 702.50,185.81 703.50,185.08 704.50,185.55 705.50,184.95 706.50,185.59 707.50,184.92 708.50,185.44 709.50,184.97 710.50,185.77 711.50,185.69 712.50,185.19 713.50,185.69 714.50,185.55 715.50,184.96 716.50,185.65 717.50,185.69 718.50,185.10 719.50,185.54 720.50,185.21 721.50,184.97 722.50,185.44 723.50,185.15 724.50,185.87 725.50,185.78 726.50,185.35 727.50,185.53 728.50,185.21 729.50,185.51 730.50,185.75 731.50,185.98 732.50,186.11 733.50,185.74 734.50,185.55 735.50,185.96 736.50,185.64 737.50,185.85 738.50,185.37 739.50,185.88 740.50,185.17 741.50,185.35 742.50,185.17 743.50,185.31 744.50,185.54 745.50,185.86 746.50,184.96 747.50,185.50 748.50,185.13 749.50,185.73 750.50,185.65 751.50,185.87 752.50,185.86 753.50,185.53 754.50,185.12 755.50,185.56 756.50,185.27 757.50,185.06 758.50,184.87 759.50,185.63 760.50,185.15 761.50,184.83 762.50,184.89 763.50,184.79 764.50,184.71 765.50,185.40 766.50,185.12 767.50,184.96 768.50,185.01 769.50,184.98 770.50,185.25 771.50,185.34 772.50,184.89 773.50,185.28 774.50,185.78 775.50,185.66 776.50,185.50 777.50,185.43 778.50,185.39 779.50,185.25 780.50,185.43 781.50,185.27 782.50,185.20 783.50,185.29 784.50,186.17 785.50,186.14 786.50,185.23 787.50,185.53 788.50,185.29 789.50,185.52 790.50,185.78 791.50,185.41 792.50,185.61 793.50,185.35 794.50,185.69 795.50,185.33 796.50,185.51 797.50,185.61 798.50,185.48 799.50,185.70 800.50,186.00 801.50,185.66 802.50,186.07 803.50,185.39 804.50,185.92 805.50,186.02 806.50,186.12 807.50,185.83 808.50,185.43 809.50,185.77 810.50,185.68 811.50,185.41 812.50,185.58 813.50,184.99 814.50,184.92 815.50,185.07 816.50,185.78 817.50,184.87 818.50,185.10 819.50,185.61 820.50,185.73 821.50,185.28 822.50,185.39 823.50,185.81 824.50,185.22 825.50,185.06 826.50,185.26 827.50,185.74 828.50,185.38 829.50,185.65 830.50,185.18 831.50,185.95 832.50,186.10 833.50,186.05 834.50,185.31 835.50,186.13 836.50,186.05 837.50,185.39 838.50,185.58 839.50,185.32 840.50,185.52 841.50,185.92 842.50,185.24 843.50,185.81 844.50,185.95 845.50,185.22 846.50,185.33 847.50,185.96 848.50,186.01 849.50,185.49 850.50,186.10 851.50,185.87 852.50,185.24 853.50,185.96 854.50,185.40 855.50,185.55 856.50,186.02 857.50,185.19 858.50,185.98 859.50,185.47 860.50,185.68 861.50,185.33 862.50,185.56 863.50,185.17 864.50,185.48 865.50,185.29 866.50,185.42 867.50,184.77 868.50,185.47 869.50,184.94 870.50,185.51 871.50,185.16 872.50,185.34 873.50,185.11 874.50,184.80 875.50,185.67 876.50,185.42 877.50,185.69 878.50,185.41 879.50,185.17 880.50,185.17 881.50,185.58 882.50,185.64 883.50,185.60 884.50,185.04 885.50,185.10 886.50,185.23 887.50,184.89 888.50,185.04 889.50,185.22 890.50,185.01 891.50,185.08 892.50,185.42 893.50,185.57 894.50,185.21 895.50,185.75 896.50,184.94 897.50,185.00 898.50,185.16 899.50,185.78 900.50,185.25 901.50,185.80 902.50,185.40 903.50,185.92 904.50,185.62 905.50,185.35 906.50,186.08 907.50,186.18 908.50,186.09 909.50,185.61 910.50,185.74 911.50,185.41 912.50,185.95 913.50,185.47 914.50,185.61 915.50,185.60 916.50,185.91 917.50,185.39 918.50,185.32 919.50,185.81 920.50,184.98 921.50,184.89 922.50,185.14 923.50,184.85 924.50,185.73 925.50,185.31 926.50,185.65 927.50,184.88 928.50,185.29 929.50,185.66 930.50,184.87 931.50,185.65 932.50,185.85 933.50,185.75 934.50,185.06 935.50,185.42 936.50,185.43 937.50,185.41 938.50,185.77 939.50,185.25 940.50,185.12 941.50,185.87 942.50,185.50 943.50,185.61 944.50,185.50 945.50,185.58 946.50,185.11 947.50,185.13 948.50,185.19 949.50,185.52 950.50,185.17 951.50,186.00 952.50,185.33 953.50,186.07 954.50,185.95 955.50,185.48 956.50,185.61 957.50,185.99 958.50,186.37 959.50,185.76 960.50,185.64 961.50,185.59 962.50,186.18 963.50,185.51 964.50,185.41 965.50,185.99 966.50,186.04 967.50,185.45 968.50,185.73 969.50,185.19 970.50,185.56 971.50,185.16 972.50,185.68 973.50,185.49 974.50,185.60 975.50,185.95 976.50,185.44 977.50,185.25 978.50,185.08 979.50,185.55 980.50,185.62 981.50,185.78 982.50,185.42 983.50,185.38 984.50,185.55 985.50,185.70 986.50,185.26 987.50,185.23 988.50,185.78 989.50,185.08 990.50,185.07 991.50,185.31 992.50,185.38 993.50,185.12 994.50,185.63 995.50,184.97 996.50,185.29 997.50,185.79 998.50,185.01 999.50,184.87 1000.50,185.64 1001.50,185.62" fill="none" stroke="#000" stroke-width="3.4" stroke-linejoin="round" />
<polyline points="598.50,189.91 599.50,189.67 600.50,189.48 601.50,189.28 602.50,189.35 603.50,189.28 604.50,189.88 605.50,189.17 606.50,189.14 607.50,189.85 608.50,189.82 609.50,188.99 610.50,189.20 611.50,189.86 612.50,189.26 613.50,189.51 614.50,189.59 615.50,189.57 616.50,189.00 617.50,189.70 618.50,189.83 619.50,189.50 620.50,189.44 621.50,189.85 622.50,190.15 623.50,190.14 624.50,189.43 625.50,190.01 626.50,189.76 627.50,190.27 628.50,190.25 629.50,189.76 630.50,190.17 631.50,190.14 632.50,189.34 633.50,189.61 634.50,190.12 635.50,189.37 636.50,189.55 637.50,189.70 638.50,189.40 639.50,189.80 640.50,189.18 641.50,189.57 642.50,189.51 643.50,188.97 644.50,189.73 645.50,189.72 646.50,189.78 647.50,189.12 648.50,189.46 649.50,189.07 650.50,189.65 651.50,189.53 652.50,189.80 653.50,189.03 654.50,189.14 655.50,188.94 656.50,189.78 657.50,189.48 658.50,188.96 659.50,189.54 660.50,189.23 661.50,189.17 662.50,189.54 663.50,189.49 664.50,189.24 665.50,189.05 666.50,189.16 667.50,189.18 668.50,189.00 669.50,189.01 670.50,189.43 671.50,189.88 672.50,189.53 673.50,189.38 674.50,189.05 675.50,189.97 676.50,189.39 677.50,189.39 678.50,189.83 679.50,190.01 680.50,189.24 681.50,189.20 682.50,189.33 683.50,190.10 684.50,189.60 685.50,189.16 686.50,189.69 687.50,189.51 688.50,189.09 689.50,189.02 690.50,189.30 691.50,189.87 692.50,189.31 693.50,189.86 694.50,189.23 695.50,189.17 696.50,188.94 697.50,189.43 698.50,188.98 699.50,189.77 700.50,189.43 701.50,188.82 702.50,189.41 703.50,189.25 704.50,189.42 705.50,189.35 706.50,188.83 707.50,189.17 708.50,189.30 709.50,188.72 710.50,189.49 711.50,189.30 712.50,188.75 713.50,188.62 714.50,188.93 715.50,189.15 716.50,189.15 717.50,188.64 718.50,189.13 719.50,189.10 720.50,188.75 721.50,189.11 722.50,189.27 723.50,189.41 724.50,188.84 725.50,188.84 726.50,189.52 727.50,189.84 728.50,189.45 729.50,189.81 730.50,189.33 731.50,189.14 732.50,189.66 733.50,189.28 734.50,189.87 735.50,189.76 736.50,189.07 737.50,189.32 738.50,189.80 739.50,189.06 740.50,189.22 741.50,189.03 742.50,189.68 743.50,189.95 744.50,189.70 745.50,189.88 746.50,189.20 747.50,189.81 748.50,190.01 749.50,189.84 750.50,189.25 751.50,189.33 752.50,189.98 753.50,189.73 754.50,189.44 755.50,189.28 756.50,189.05 757.50,189.76 758.50,189.56 759.50,189.08 760.50,189.04 761.50,189.87 762.50,189.76 763.50,188.82 764.50,188.95 765.50,189.64 766.50,189.19 767.50,189.58 768.50,189.20 769.50,189.09 770.50,189.67 771.50,189.04 772.50,189.69 773.50,189.55 774.50,188.93 775.50,189.77 776.50,189.82 777.50,189.03 778.50,189.48 779.50,189.47 780.50,189.26 781.50,189.77 782.50,189.98 783.50,189.96 784.50,189.90 785.50,189.52 786.50,189.76 787.50,189.97 788.50,189.44 789.50,189.87 790.50,189.55 791.50,190.02 792.50,189.46 793.50,189.66 794.50,189.56 795.50,189.26 796.50,189.61 797.50,189.87 798.50,189.77 799.50,190.09 800.50,189.96 801.50,189.30 802.50,189.68 803.50,189.64 804.50,189.21 805.50,190.13 806.50,189.81 807.50,189.47 808.50,189.76 809.50,189.76 810.50,189.84 811.50,189.92 812.50,189.56 813.50,189.46 814.50,189.46 815.50,189.08 816.50,188.84 817.50,189.50 818.50,189.45 819.50,188.78 820.50,189.03 821.50,188.89 822.50,188.75 823.50,189.33 824.50,189.04 825.50,188.96 826.50,189.39 827.50,189.47 828.50,188.97 829.50,189.27 830.50,188.99 831.50,189.00 832.50,189.03 833.50,189.07 834.50,188.97 835.50,188.82 836.50,189.70 837.50,189.30 838.50,189.08 839.50,189.30 840.50,189.73 841.50,188.90 842.50,189.66 843.50,189.11 844.50,188.83 845.50,189.79 846.50,189.11 847.50,189.78 848.50,188.95 849.50,189.02 850.50,189.59 851.50,189.10 852.50,189.75 853.50,189.41 854.50,189.96 855.50,189.45 856.50,189.69 857.50,189.36 858.50,189.39 859.50,189.58 860.50,189.31 861.50,189.59 862.50,189.31 863.50,189.49 864.50,189.07 865.50,189.19 866.50,189.17 867.50,189.28 868.50,189.76 869.50,189.71 870.50,189.16 871.50,189.35 872.50,189.46 873.50,189.49 874.50,189.24 875.50,188.80 876.50,189.28 877.50,189.03 878.50,188.78 879.50,188.81 880.50,189.40 881.50,188.94 882.50,188.99 883.50,189.12 884.50,189.05 885.50,189.27 886.50,188.98 887.50,188.93 888.50,189.44 889.50,188.84 890.50,189.64 891.50,189.73 892.50,188.89 893.50,189.39 894.50,189.64 895.50,189.01 896.50,189.78 897.50,189.20 898.50,188.92 899.50,188.95 900.50,189.23 901.50,189.26 902.50,189.67 903.50,189.62 904.50,189.90 905.50,189.74 906.50,189.51 907.50,189.26 908.50,190.08 909.50,189.56 910.50,190.15 911.50,189.33 912.50,189.50 913.50,190.15 914.50,190.01 915.50,189.31 916.50,189.90 917.50,189.99 918.50,189.84 919.50,189.83 920.50,189.31 921.50,189.49 922.50,189.81 923.50,189.64 924.50,188.99 925.50,189.14 926.50,189.24 927.50,189.07 928.50,189.24 929.50,189.06 930.50,189.82 931.50,189.19 932.50,189.90 933.50,189.74 934.50,189.23 935.50,189.12 936.50,189.79 937.50,189.27 938.50,189.58 939.50,189.61 940.50,189.38 941.50,189.54 942.50,189.47 943.50,189.39 944.50,188.97 945.50,189.62 946.50,189.52 947.50,188.87 948.50,189.23 949.50,189.02 950.50,189.33 951.50,189.17 952.50,189.14 953.50,189.07 954.50,189.69 955.50,189.37 956.50,189.04 957.50,189.61 958.50,190.06 959.50,189.52 960.50,190.06 961.50,189.79 962.50,189.90 963.50,189.40 964.50,189.26 965.50,189.84 966.50,189.37 967.50,189.74 968.50,189.10 969.50,189.99 970.50,189.46 971.50,189.96 972.50,189.81 973.50,189.82 974.50,189.87 975.50,188.97 976.50,189.62 977.50,189.09 978.50,189.82 979.50,189.75 980.50,189.29 981.50,189.45 982.50,189.07 983.50,189.10 984.50,189.16 985.50,189.11 986.50,189.48 987.50,189.71 988.50,189.45 989.50,188.74 990.50,189.46 991.50,189.07 992.50,188.97 993.50,188.83 994.50,188.79 995.50,189.53 996.50,189.03 997.50,189.32 998.50,188.55 999.50,189.34 1000.50,189.19 1001.50,189.43" fill="none" stroke="#000" stroke-width="3.4" stroke-linejoin="round" />
<polyline points="598.50,193.50 599.50,193.70 600.50,194.00 601.50,193.49 602.50,193.36 603.50,193.57 604.50,193.19 605.50,192.98 606.50,193.53 607.50,192.85 608.50,193.57 609.50,193.56 610.50,193.22 611.50,193.18 612.50,192.73 613.50,192.82 614.50,193.41 615.50,193.35 616.50,193.23 617.50,192.73 618.50,193.29 619.50,193.54 620.50,193.41 621.50,193.19 622.50,192.95 623.50,192.92 624.50,192.64 625.50,192.53 626.50,193.45 627.50,192.88 628.50,192.88 629.50,192.97 630.50,193.47 631.50,193.41 632.50,193.18 633.50,193.27 634.50,193.00 635.50,193.11 636.50,193.24 637.50,193.09 638.50,192.45 639.50,192.84 640.50,192.93 641.50,192.99 642.50,193.22 643.50,193.04 644.50,192.65 645.50,192.69 646.50,192.97 647.50,192.94 648.50,192.54 649.50,192.58 650.50,192.81 651.50,192.71 652.50,192.91 653.50,193.13 654.50,192.73 655.50,192.93 656.50,192.59 657.50,193.24 658.50,193.17 659.50,193.11 660.50,192.88 661.50,192.67 662.50,192.86 663.50,192.89 664.50,193.42 665.50,193.24 666.50,193.53 667.50,193.61 668.50,192.95 669.50,192.84 670.50,193.41 671.50,193.11 672.50,193.52 673.50,193.14 674.50,192.93 675.50,193.65 676.50,193.46 677.50,193.53 678.50,193.45 679.50,193.71 680.50,193.65 681.50,192.85 682.50,192.87 683.50,192.84 684.50,193.54 685.50,193.30 686.50,193.50 687.50,192.87 688.50,192.93 689.50,193.61 690.50,193.32 691.50,192.82 692.50,192.74 693.50,193.38 694.50,193.38 695.50,192.62 696.50,193.44 697.50,192.55 698.50,192.79 699.50,193.00 700.50,193.17 701.50,193.23 702.50,192.36 703.50,192.60 704.50,192.49 705.50,192.45 706.50,193.06 707.50,192.55 708.50,192.85 709.50,193.13 710.50,193.25 711.50,193.04 712.50,193.21 713.50,193.18 714.50,192.77 715.50,192.78 716.50,193.52 717.50,192.82 718.50,193.47 719.50,192.62 720.50,192.87 721.50,193.23 722.50,192.79 723.50,193.55 724.50,193.19 725.50,193.44 726.50,193.24 727.50,193.44 728.50,192.73 729.50,192.98 730.50,192.88 731.50,193.03 732.50,192.79 733.50,192.82 734.50,193.21 735.50,193.65 736.50,193.35 737.50,193.35 738.50,193.61 739.50,193.26 740.50,193.23 741.50,193.23 742.50,193.12 743.50,192.72 744.50,192.61 745.50,193.32 746.50,192.90 747.50,193.18 748.50,192.39 749.50,192.80 750.50,193.18 751.50,192.25 752.50,193.18 753.50,192.55 754.50,192.70 755.50,192.81 756.50,192.77 757.50,192.50 758.50,193.13 759.50,192.50 760.50,192.22 761.50,192.25 762.50,193.22 763.50,192.50 764.50,192.61 765.50,192.86 766.50,192.80 767.50,192.63 768.50,193.01 769.50,192.87 770.50,192.40 771.50,193.00 772.50,193.00 773.50,193.04 774.50,193.01 775.50,192.34 776.50,192.39 777.50,193.23 778.50,192.62 779.50,193.40 780.50,193.44 781.50,193.33 782.50,193.22 783.50,192.59 784.50,193.43 785.50,193.02 786.50,193.50 787.50,193.61 788.50,192.76 789.50,193.10 790.50,193.00 791.50,192.90 792.50,193.67 793.50,193.40 794.50,193.27 795.50,193.44 796.50,193.21 797.50,192.64 798.50,193.14 799.50,193.23 800.50,193.23 801.50,193.31 802.50,192.76 803.50,193.05 804.50,193.18 805.50,192.85 806.50,193.37 807.50,192.74 808.50,192.93 809.50,192.84 810.50,193.33 811.50,193.28 812.50,193.17 813.50,193.14 814.50,193.04 815.50,193.17 816.50,192.77 817.50,192.54 818.50,192.89 819.50,193.42 820.50,192.51 821.50,193.02 822.50,192.57 823.50,192.45 824.50,193.13 825.50,193.10 826.50,192.68 827.50,193.02 828.50,193.02 829.50,192.96 830.50,193.21 831.50,193.31 832.50,193.34 833.50,193.18 834.50,193.57 835.50,193.65 836.50,193.46 837.50,193.04 838.50,192.96 839.50,193.51 840.50,193.63 841.50,193.85 842.50,193.82 843.50,193.28 844.50,192.96 845.50,193.50 846.50,193.39 847.50,193.49 848.50,193.00 849.50,193.39 850.50,193.38 851.50,192.73 852.50,192.78 853.50,193.11 854.50,193.29 855.50,193.42 856.50,192.77 857.50,193.53 858.50,192.78 859.50,193.52 860.50,192.76 861.50,193.19 862.50,193.40 863.50,192.72 864.50,192.89 865.50,193.42 866.50,193.25 867.50,193.26 868.50,192.54 869.50,193.34 870.50,192.85 871.50,192.58 872.50,193.18 873.50,192.79 874.50,193.10 875.50,193.11 876.50,192.28 877.50,192.48 878.50,192.87 879.50,192.34 880.50,192.39 881.50,192.85 882.50,193.09 883.50,192.44 884.50,192.45 885.50,193.10 886.50,192.75 887.50,192.77 888.50,192.99 889.50,193.46 890.50,193.15 891.50,192.94 892.50,193.00 893.50,193.49 894.50,193.29 895.50,193.19 896.50,192.87 897.50,193.42 898.50,192.73 899.50,193.01 900.50,192.77 901.50,192.78 902.50,192.68 903.50,192.73 904.50,193.31 905.50,192.53 906.50,192.89 907.50,192.52 908.50,192.52 909.50,192.81 910.50,192.80 911.50,193.36 912.50,192.85 913.50,193.37 914.50,193.46 915.50,192.96 916.50,192.93 917.50,193.31 918.50,193.34 919.50,193.42 920.50,192.63 921.50,192.71 922.50,192.91 923.50,192.85 924.50,192.63 925.50,192.40 926.50,192.63 927.50,193.09 928.50,192.57 929.50,192.51 930.50,193.08 931.50,192.22 932.50,192.45 933.50,192.34 934.50,192.48 935.50,193.13 936.50,192.57 937.50,192.62 938.50,192.56 939.50,192.81 940.50,192.45 941.50,192.87 942.50,193.36 943.50,193.44 944.50,192.89 945.50,192.67 946.50,192.65 947.50,193.04 948.50,192.92 949.50,193.41 950.50,192.89 951.50,193.09 952.50,193.01 953.50,193.11 954.50,193.32 955.50,193.51 956.50,193.59 957.50,193.23 958.50,193.67 959.50,193.02 960.50,193.44 961.50,193.30 962.50,193.63 963.50,193.33 964.50,193.60 965.50,193.68 966.50,192.95 967.50,193.49 968.50,193.68 969.50,193.41 970.50,193.31 971.50,192.87 972.50,193.44 973.50,192.93 974.50,193.38 975.50,192.63 976.50,193.22 977.50,193.09 978.50,193.34 979.50,192.82 980.50,192.70 981.50,192.63 982.50,192.94 983.50,192.76 984.50,193.31 985.50,192.57 986.50,192.93 987.50,192.81 988.50,192.52 989.50,192.54 990.50,193.13 991.50,192.71 992.50,192.61 993.50,193.05 994.50,192.93 995.50,192.74 996.50,193.36 997.50,192.92 998.50,193.15 999.50,193.53 1000.50,193.18 1001.50,192.92" fill="none" stroke="#000" stroke-width="3.4" stroke-linejoin="round" />
<polyline points="598.50,198.33 599.50,198.19 600.50,197.67 601.50,197.68 602.50,196.99 603.50,197.15 604.50,196.89 605.50,196.48 606.50,197.13 607.50,197.12 608.50,196.26 609.50,196.66 610.50,196.49 611.50,196.32 612.50,196.44 613.50,196.47 614.50,196.06 615.50,196.13 616.50,196.27 617.50,196.76 618.50,196.71 619.50,196.58 620.50,196.29 621.50,196.77 622.50,196.88 623.50,196.83 624.50,196.18 625.50,196.43 626.50,196.29 627.50,196.55 628.50,196.98 629.50,196.64 630.50,196.50 631.50,196.34 632.50,196.32 633.50,197.01 634.50,197.13 635.50,197.06 636.50,196.17 637.50,196.42 638.50,196.28 639.50,196.59 640.50,196.32 641.50,196.60 642.50,196.56 643.50,196.74 644.50,196.62 645.50,196.62 646.50,196.16 647.50,197.07 648.50,196.56 649.50,197.01 650.50,196.46 651.50,196.23 652.50,197.13 653.50,196.62 654.50,196.28 655.50,197.05 656.50,197.00 657.50,196.15 658.50,196.96 659.50,196.10 660.50,196.07 661.50,196.05 662.50,196.75 663.50,196.45 664.50,196.38 665.50,196.50 666.50,196.09 667.50,195.85 668.50,195.88 669.50,196.05 670.50,196.42 671.50,195.93 672.50,195.94 673.50,196.14 674.50,195.99 675.50,196.08 676.50,196.20 677.50,196.23 678.50,196.48 679.50,197.04 680.50,196.89 681.50,196.26 682.50,196.34 683.50,196.63 684.50,196.76 685.50,196.77 686.50,196.86 687.50,197.05 688.50,196.96 689.50,196.58 690.50,196.60 691.50,197.33 692.50,196.86 693.50,197.26 694.50,197.29 695.50,197.18 696.50,197.01 697.50,197.14 698.50,196.71 699.50,196.64 700.50,196.84 701.50,196.64 702.50,196.64 703.50,196.57 704.50,196.63 705.50,196.46 706.50,196.56 707.50,197.13 708.50,196.41 709.50,197.03 710.50,196.99 711.50,196.40 712.50,196.66 713.50,196.74 714.50,197.03 715.50,196.66 716.50,196.14 717.50,196.03 718.50,196.12 719.50,196.06 720.50,196.72 721.50,196.75 722.50,196.01 723.50,196.68 724.50,196.83 725.50,196.16 726.50,196.46 727.50,196.22 728.50,196.43 729.50,196.79 730.50,196.25 731.50,196.57 732.50,196.71 733.50,196.96 734.50,197.06 735.50,197.01 736.50,196.50 737.50,196.45 738.50,197.01 739.50,196.96 740.50,196.90 741.50,196.70 742.50,197.05 743.50,196.23 744.50,196.30 745.50,196.88 746.50,196.41 747.50,196.79 748.50,196.76 749.50,196.82 750.50,196.49 751.50,197.21 752.50,196.83 753.50,196.29 754.50,196.61 755.50,196.82 756.50,197.16 757.50,196.90 758.50,197.22 759.50,196.58 760.50,196.27 761.50,196.63 762.50,197.05 763.50,196.63 764.50,196.90 765.50,196.83 766.50,196.85 767.50,196.40 768.50,195.89 769.50,196.40 770.50,195.89 771.50,196.15 772.50,195.99 773.50,196.11 774.50,196.22 775.50,196.43 776.50,196.71 777.50,196.61 778.50,196.60 779.50,195.95 780.50,196.38 781.50,196.20 782.50,196.27 783.50,195.93 784.50,196.31 785.50,196.82 786.50,196.74 787.50,196.70 788.50,195.97 789.50,196.71 790.50,196.28 791.50,196.22 792.50,196.38 793.50,196.22 794.50,196.17 795.50,196.83 796.50,196.54 797.50,196.45 798.50,196.55 799.50,196.13 800.50,196.20 801.50,196.18 802.50,196.55 803.50,197.12 804.50,196.32 805.50,196.61 806.50,197.23 807.50,196.58 808.50,196.90 809.50,197.31 810.50,197.17 811.50,196.80 812.50,196.69 813.50,196.65 814.50,196.68 815.50,197.30 816.50,196.86 817.50,196.69 818.50,197.15 819.50,196.58 820.50,196.39 821.50,196.64 822.50,196.22 823.50,197.03 824.50,196.08 825.50,196.44 826.50,196.10 827.50,196.28 828.50,196.94 829.50,196.23 830.50,196.86 831.50,196.74 832.50,196.14 833.50,197.05 834.50,196.14 835.50,196.92 836.50,197.04 837.50,196.48 838.50,196.45 839.50,196.43 840.50,196.73 841.50,196.66 842.50,196.18 843.50,196.15 844.50,196.17 845.50,196.10 846.50,196.12 847.50,196.53 848.50,196.19 849.50,196.77 850.50,196.43 851.50,197.11 852.50,196.26 853.50,196.86 854.50,196.74 855.50,197.07 856.50,196.40 857.50,196.59 858.50,197.38 859.50,196.93 860.50,196.84 861.50,196.58 862.50,197.08 863.50,197.46 864.50,197.10 865.50,197.42 866.50,197.08 867.50,196.43 868.50,197.00 869.50,196.90 870.50,197.29 871.50,197.07 872.50,196.95 873.50,196.35 874.50,196.63 875.50,196.93 876.50,196.70 877.50,196.72 878.50,196.21 879.50,196.65 880.50,196.20 881.50,196.12 882.50,196.82 883.50,196.49 884.50,196.27 885.50,196.51 886.50,196.11 887.50,196.63 888.50,196.94 889.50,196.74 890.50,196.79 891.50,196.55 892.50,196.80 893.50,196.24 894.50,195.90 895.50,195.94 896.50,195.76 897.50,195.94 898.50,195.84 899.50,195.90 900.50,196.50 901.50,196.14 902.50,196.12 903.50,195.94 904.50,196.62 905.50,196.15 906.50,196.83 907.50,196.08 908.50,196.04 909.50,196.89 910.50,196.59 911.50,196.98 912.50,196.86 913.50,196.88 914.50,196.45 915.50,196.85 916.50,196.30 917.50,197.10 918.50,197.04 919.50,196.80 920.50,196.27 921.50,196.36 922.50,196.58 923.50,196.24 924.50,197.07 925.50,197.02 926.50,196.57 927.50,196.33 928.50,196.59 929.50,197.08 930.50,196.54 931.50,196.84 932.50,196.55 933.50,196.24 934.50,196.40 935.50,196.52 936.50,196.77 937.50,196.46 938.50,196.28 939.50,196.12 940.50,196.94 941.50,196.82 942.50,196.37 943.50,196.66 944.50,196.29 945.50,196.11 946.50,195.89 947.50,196.42 948.50,195.78 949.50,196.66 950.50,195.91 951.50,196.69 952.50,196.17 953.50,196.47 954.50,196.01 955.50,196.06 956.50,196.67 957.50,196.48 958.50,196.54 959.50,196.39 960.50,196.69 961.50,197.10 962.50,197.12 963.50,197.07 964.50,196.77 965.50,196.69 966.50,197.12 967.50,197.11 968.50,196.69 969.50,196.83 970.50,196.32 971.50,196.95 972.50,196.83 973.50,196.45 974.50,197.27 975.50,197.04 976.50,196.83 977.50,197.17 978.50,196.91 979.50,196.88 980.50,196.40 981.50,197.10 982.50,196.90 983.50,196.95 984.50,197.02 985.50,197.18 986.50,197.15 987.50,197.12 988.50,197.43 989.50,196.82 990.50,197.37 991.50,196.46 992.50,197.18 993.50,196.89 994.50,196.72 995.50,196.46 996.50,196.30 997.50,196.49 998.50,196.55 999.50,196.03 1000.50,196.69 1001.50,196.83" fill="none" stroke="#000" stroke-width="3.4" stroke-linejoin="round" />
<line x1="1123.30" y1="175.60" x2="1137.00" y2="175.60" stroke="#000" stroke-width="3.2" stroke-linecap="butt"/>
<line x1="1137.00" y1="145.40" x2="1137.00" y2="202.50" stroke="#000" stroke-width="2.2" stroke-linecap="butt"/>
<path d="M1137.0,163.6 L1138.5,163.8 L1140.0,164.2 L1141.5,163.3 L1143.0,163.7 L1144.5,164.7 L1146.0,164.5 L1147.5,164.2 L1149.0,164.2 L1150.5,164.0 L1152.0,164.2 L1153.5,164.4 L1155.0,163.7 L1156.5,164.5 L1158.0,164.3 L1159.5,164.3 L1161.0,163.9 L1162.5,163.9 L1164.0,164.5 L1165.5,163.5 L1167.0,164.7 L1168.5,164.2 L1170.0,164.0 L1171.5,163.8 L1173.0,164.1 L1174.5,164.3 L1176.0,164.5 L1177.5,164.2 L1179.0,164.5 L1180.5,164.6 L1182.0,164.3 L1183.5,164.5 L1185.0,163.7 L1186.5,164.5 L1188.0,163.4 L1189.5,163.9 L1191.0,163.7 L1192.5,164.5 L1194.0,164.2 L1195.5,164.3 L1197.0,164.5 L1198.5,164.0 L1200.0,163.7 L1201.5,164.1 L1203.0,163.6 L1204.5,164.2 L1206.0,163.4 L1207.5,163.7 L1209.0,164.6 L1210.5,163.9 L1212.0,164.2 L1213.5,164.1 L1215.0,164.6 L1216.5,163.9 L1218.0,163.6 L1219.5,164.7 L1221.0,164.1 L1222.5,163.9 L1224.0,163.3 L1225.5,164.2 L1227.0,164.2 L1228.5,164.3 L1230.0,164.3 L1231.5,163.3 L1233.0,164.2 L1234.5,163.7 L1236.0,164.1 L1237.5,163.8 L1239.0,163.8 L1240.5,163.7 L1242.0,164.4 L1243.5,164.1 L1245.0,163.7 L1246.5,164.4 L1248.0,163.6 L1249.5,164.3 L1251.0,163.8 L1252.5,164.5 L1254.0,164.5 L1255.5,163.8 L1257.0,164.5 L1258.5,163.6 L1260.0,164.0 L1261.5,164.4 L1263.0,163.6 L1264.5,164.4 L1266.0,164.4 L1267.5,163.5 L1269.0,164.4 L1270.5,163.8 L1272.0,163.9 L1273.5,164.6 L1275.0,163.3 L1276.5,164.5 L1278.0,163.9 L1279.5,164.6 L1281.0,164.3 L1282.5,164.2 L1284.0,163.7 L1285.5,163.6 L1287.0,164.1 L1288.5,164.4 L1290.0,164.6 L1291.5,164.6 L1293.0,164.6 L1294.5,163.3 L1296.0,163.5 L1297.5,164.2 L1299.0,163.9 L1300.5,164.2 L1302.0,163.7 L1303.5,164.0 L1305.0,163.8 L1306.5,164.0 L1308.0,163.5 L1309.5,164.6 L1311.0,164.5 L1312.5,164.2 L1314.0,163.4 L1315.5,163.7 L1317.0,163.9 L1318.5,164.4 L1320.0,163.4 L1321.5,163.5 L1323.0,164.7 L1324.5,163.4 L1326.0,163.7 L1327.5,163.8 L1329.0,164.1 L1330.5,163.6 L1332.0,163.5 L1333.5,164.3 L1335.0,163.4 L1336.5,163.8 L1338.0,164.4 L1339.5,164.4 L1341.0,163.9 L1342.5,164.0 L1344.0,163.9 L1345.5,163.9 L1347.0,164.1 L1348.5,163.4 L1350.0,163.9 L1351.5,164.6 L1353.0,164.6 L1354.5,163.7 L1356.0,163.5 L1357.5,164.2 L1359.0,164.4 L1360.5,164.3 L1362.0,163.4 L1363.5,163.3 L1365.0,164.4 L1366.5,163.4 L1368.0,164.5 L1369.5,163.3 L1371.0,163.5 L1372.5,164.2 L1374.0,164.6 L1375.5,164.4 L1377.0,164.4 L1378.5,164.3 L1380.0,164.3 L1381.5,163.4 L1383.0,164.1 L1384.5,163.6 L1386.0,163.6 L1387.5,164.4 L1389.0,163.8 L1390.5,163.8 L1392.0,163.4 L1393.5,164.7 L1395.0,164.3 L1396.5,164.3 L1398.0,164.2 L1399.5,164.0 L1401.0,164.6 L1402.5,163.4 L1404.0,164.6 L1405.5,163.9 L1407.0,163.6 L1408.5,163.6 L1410.0,163.7 L1411.5,164.3 L1413.0,163.7 L1414.5,163.9 L1416.0,164.1 L1417.5,163.6 L1419.0,164.0 L1420.5,163.5 L1422.0,163.8 L1423.5,163.5 L1425.0,164.0 L1426.5,164.0 L1428.0,164.5 L1429.5,164.0 L1431.0,164.5 L1432.5,164.3 L1434.0,164.0 L1435.5,163.6 L1437.0,164.2 L1438.5,164.5 L1440.0,163.6 L1441.5,163.6 L1443.0,164.5 L1444.5,163.7 L1446.0,163.7 L1447.5,164.3 L1449.0,163.4 L1450.5,163.7 L1452.0,164.1 L1453.5,163.3 L1455.0,163.9 L1456.5,163.6 L1458.0,164.6 L1459.5,164.1 L1461.0,163.7 L1462.5,163.5 L1464.0,164.6 L1465.5,164.6 L1467.0,164.4 L1468.5,163.7 L1470.0,164.2 L1471.5,163.7 L1473.0,164.6 L1474.5,164.1 L1476.0,164.0 L1477.5,164.3 L1479.0,164.1 L1480.5,164.2 L1482.0,163.6 L1483.5,164.2 L1485.0,164.6 L1486.5,163.8 L1488.0,164.1 L1489.5,164.2 L1491.0,163.7 L1492.5,163.4 L1494.0,164.4 L1495.5,164.3 L1497.0,163.7 L1498.5,164.5 L1500.0,164.0 L1501.5,164.4 L1503.0,163.8 L1504.5,164.1 L1506.0,163.8 L1507.5,163.5 L1509.0,163.4 L1510.5,164.4 L1512.0,163.6 L1513.5,163.9 L1515.0,164.4 L1516.5,164.1 L1518.0,163.9 L1519.5,164.0 L1521.0,163.6 L1522.5,164.4 L1524.0,164.4 L1525.5,164.6 L1527.0,164.1 L1528.5,164.2 L1530.0,164.3 L1531.5,164.5 L1533.0,164.1 L1534.5,163.3 L1536.0,164.2 L1537.5,164.0 L1539.0,163.6 L1540.5,163.4 L1540.5,186.0 L1539.0,186.0 L1537.5,185.9 L1536.0,186.0 L1534.5,186.4 L1533.0,186.3 L1531.5,186.0 L1530.0,185.7 L1528.5,186.7 L1527.0,186.1 L1525.5,185.8 L1524.0,186.5 L1522.5,185.3 L1521.0,185.7 L1519.5,186.1 L1518.0,185.6 L1516.5,185.5 L1515.0,186.3 L1513.5,186.3 L1512.0,185.6 L1510.5,186.3 L1509.0,185.5 L1507.5,185.7 L1506.0,186.5 L1504.5,186.4 L1503.0,185.9 L1501.5,185.8 L1500.0,185.6 L1498.5,185.4 L1497.0,185.8 L1495.5,185.8 L1494.0,186.1 L1492.5,186.3 L1491.0,185.5 L1489.5,185.9 L1488.0,186.1 L1486.5,186.3 L1485.0,185.5 L1483.5,185.5 L1482.0,186.5 L1480.5,186.2 L1479.0,185.6 L1477.5,186.2 L1476.0,185.8 L1474.5,185.5 L1473.0,186.2 L1471.5,186.4 L1470.0,186.4 L1468.5,186.2 L1467.0,186.4 L1465.5,185.8 L1464.0,185.4 L1462.5,186.5 L1461.0,186.2 L1459.5,185.5 L1458.0,185.8 L1456.5,186.1 L1455.0,186.0 L1453.5,185.8 L1452.0,186.2 L1450.5,185.8 L1449.0,186.5 L1447.5,185.4 L1446.0,185.9 L1444.5,186.5 L1443.0,186.6 L1441.5,186.3 L1440.0,185.7 L1438.5,185.6 L1437.0,186.6 L1435.5,186.3 L1434.0,185.6 L1432.5,186.6 L1431.0,185.9 L1429.5,186.3 L1428.0,186.1 L1426.5,186.5 L1425.0,186.1 L1423.5,186.7 L1422.0,186.4 L1420.5,185.8 L1419.0,185.8 L1417.5,185.3 L1416.0,185.7 L1414.5,186.5 L1413.0,186.3 L1411.5,186.6 L1410.0,185.6 L1408.5,186.1 L1407.0,185.7 L1405.5,186.3 L1404.0,186.0 L1402.5,186.3 L1401.0,185.5 L1399.5,186.2 L1398.0,186.0 L1396.5,186.4 L1395.0,185.5 L1393.5,185.9 L1392.0,186.0 L1390.5,185.9 L1389.0,185.9 L1387.5,185.9 L1386.0,186.2 L1384.5,185.6 L1383.0,186.5 L1381.5,185.8 L1380.0,186.6 L1378.5,185.4 L1377.0,186.0 L1375.5,185.4 L1374.0,186.1 L1372.5,186.5 L1371.0,186.5 L1369.5,186.5 L1368.0,185.6 L1366.5,185.4 L1365.0,185.4 L1363.5,185.5 L1362.0,186.1 L1360.5,186.1 L1359.0,186.2 L1357.5,186.5 L1356.0,186.4 L1354.5,185.9 L1353.0,186.4 L1351.5,185.8 L1350.0,186.5 L1348.5,185.9 L1347.0,186.3 L1345.5,185.6 L1344.0,186.3 L1342.5,186.3 L1341.0,185.8 L1339.5,186.2 L1338.0,185.8 L1336.5,186.1 L1335.0,185.5 L1333.5,185.8 L1332.0,186.1 L1330.5,185.8 L1329.0,185.8 L1327.5,186.2 L1326.0,185.7 L1324.5,186.0 L1323.0,186.5 L1321.5,185.4 L1320.0,185.5 L1318.5,185.3 L1317.0,186.0 L1315.5,186.0 L1314.0,185.7 L1312.5,186.5 L1311.0,185.3 L1309.5,186.4 L1308.0,186.4 L1306.5,186.4 L1305.0,185.6 L1303.5,186.4 L1302.0,186.5 L1300.5,185.8 L1299.0,186.6 L1297.5,186.0 L1296.0,185.7 L1294.5,186.3 L1293.0,186.1 L1291.5,186.6 L1290.0,186.3 L1288.5,185.4 L1287.0,185.7 L1285.5,185.4 L1284.0,185.8 L1282.5,186.0 L1281.0,186.5 L1279.5,185.6 L1278.0,186.6 L1276.5,186.7 L1275.0,186.6 L1273.5,185.5 L1272.0,185.9 L1270.5,185.9 L1269.0,185.7 L1267.5,185.7 L1266.0,185.8 L1264.5,186.2 L1263.0,185.7 L1261.5,186.5 L1260.0,185.6 L1258.5,185.5 L1257.0,185.9 L1255.5,186.2 L1254.0,185.5 L1252.5,185.9 L1251.0,185.8 L1249.5,185.4 L1248.0,185.9 L1246.5,185.6 L1245.0,185.6 L1243.5,186.3 L1242.0,185.3 L1240.5,185.8 L1239.0,186.1 L1237.5,185.7 L1236.0,185.7 L1234.5,185.9 L1233.0,186.6 L1231.5,185.4 L1230.0,186.3 L1228.5,185.8 L1227.0,186.0 L1225.5,185.4 L1224.0,186.2 L1222.5,186.1 L1221.0,185.3 L1219.5,186.0 L1218.0,185.7 L1216.5,186.3 L1215.0,186.0 L1213.5,186.2 L1212.0,186.1 L1210.5,186.0 L1209.0,185.8 L1207.5,186.6 L1206.0,186.5 L1204.5,185.5 L1203.0,185.9 L1201.5,185.3 L1200.0,185.4 L1198.5,186.7 L1197.0,186.7 L1195.5,185.8 L1194.0,185.4 L1192.5,185.4 L1191.0,186.4 L1189.5,185.5 L1188.0,186.4 L1186.5,186.7 L1185.0,185.4 L1183.5,186.1 L1182.0,185.6 L1180.5,186.1 L1179.0,186.7 L1177.5,185.5 L1176.0,186.7 L1174.5,186.6 L1173.0,186.6 L1171.5,186.1 L1170.0,185.8 L1168.5,185.7 L1167.0,185.9 L1165.5,185.6 L1164.0,185.4 L1162.5,186.6 L1161.0,186.4 L1159.5,186.6 L1158.0,186.5 L1156.5,186.0 L1155.0,185.3 L1153.5,186.1 L1152.0,185.4 L1150.5,186.3 L1149.0,186.5 L1147.5,185.5 L1146.0,186.0 L1144.5,186.0 L1143.0,185.6 L1141.5,186.5 L1140.0,185.4 L1138.5,186.1 L1137.0,186.1 Z" fill="#000"/>
<rect x="1142.00" y="169.50" width="0.73" height="0.70" fill="#fff" opacity="0.8"/>
<rect x="1151.19" y="169.50" width="0.88" height="0.70" fill="#fff" opacity="0.8"/>
<rect x="1158.73" y="169.50" width="1.49" height="0.70" fill="#fff" opacity="0.8"/>
<rect x="1165.71" y="169.50" width="1.24" height="0.70" fill="#fff" opacity="0.8"/>
<rect x="1180.37" y="169.50" width="0.62" height="0.70" fill="#fff" opacity="0.8"/>
<rect x="1202.65" y="169.50" width="1.30" height="0.70" fill="#fff" opacity="0.8"/>
<rect x="1230.13" y="169.50" width="1.48" height="0.70" fill="#fff" opacity="0.8"/>
<rect x="1250.03" y="169.50" width="1.37" height="0.70" fill="#fff" opacity="0.8"/>
<rect x="1254.34" y="169.50" width="1.00" height="0.70" fill="#fff" opacity="0.8"/>
<rect x="1288.79" y="169.50" width="1.35" height="0.70" fill="#fff" opacity="0.8"/>
<rect x="1298.63" y="169.50" width="1.71" height="0.70" fill="#fff" opacity="0.8"/>
<rect x="1326.22" y="169.50" width="1.15" height="0.70" fill="#fff" opacity="0.8"/>
<rect x="1345.47" y="169.50" width="1.78" height="0.70" fill="#fff" opacity="0.8"/>
<rect x="1349.18" y="169.50" width="1.00" height="0.70" fill="#fff" opacity="0.8"/>
<rect x="1370.05" y="169.50" width="1.05" height="0.70" fill="#fff" opacity="0.8"/>
<rect x="1379.95" y="169.50" width="0.77" height="0.70" fill="#fff" opacity="0.8"/>
<rect x="1417.35" y="169.50" width="0.65" height="0.70" fill="#fff" opacity="0.8"/>
<rect x="1428.63" y="169.50" width="1.58" height="0.70" fill="#fff" opacity="0.8"/>
<rect x="1433.43" y="169.50" width="1.15" height="0.70" fill="#fff" opacity="0.8"/>
<rect x="1466.47" y="169.50" width="0.75" height="0.70" fill="#fff" opacity="0.8"/>
<rect x="1489.30" y="169.50" width="1.62" height="0.70" fill="#fff" opacity="0.8"/>
<rect x="1532.41" y="169.50" width="0.84" height="0.70" fill="#fff" opacity="0.8"/>
<rect x="1142.00" y="173.50" width="0.86" height="0.70" fill="#fff" opacity="0.8"/>
<rect x="1178.35" y="173.50" width="1.51" height="0.70" fill="#fff" opacity="0.8"/>
<rect x="1182.11" y="173.50" width="1.48" height="0.70" fill="#fff" opacity="0.8"/>
<rect x="1198.89" y="173.50" width="0.70" height="0.70" fill="#fff" opacity="0.8"/>
<rect x="1206.28" y="173.50" width="0.62" height="0.70" fill="#fff" opacity="0.8"/>
<rect x="1209.58" y="173.50" width="1.02" height="0.70" fill="#fff" opacity="0.8"/>
<rect x="1222.13" y="173.50" width="1.58" height="0.70" fill="#fff" opacity="0.8"/>
<rect x="1242.54" y="173.50" width="1.00" height="0.70" fill="#fff" opacity="0.8"/>
<rect x="1274.43" y="173.50" width="0.67" height="0.70" fill="#fff" opacity="0.8"/>
<rect x="1281.40" y="173.50" width="0.96" height="0.70" fill="#fff" opacity="0.8"/>
<rect x="1286.71" y="173.50" width="0.64" height="0.70" fill="#fff" opacity="0.8"/>
<rect x="1328.85" y="173.50" width="1.62" height="0.70" fill="#fff" opacity="0.8"/>
<rect x="1346.67" y="173.50" width="0.60" height="0.70" fill="#fff" opacity="0.8"/>
<rect x="1378.61" y="173.50" width="0.98" height="0.70" fill="#fff" opacity="0.8"/>
<rect x="1394.98" y="173.50" width="1.54" height="0.70" fill="#fff" opacity="0.8"/>
<rect x="1417.86" y="173.50" width="1.76" height="0.70" fill="#fff" opacity="0.8"/>
<rect x="1421.96" y="173.50" width="1.66" height="0.70" fill="#fff" opacity="0.8"/>
<rect x="1470.70" y="173.50" width="1.66" height="0.70" fill="#fff" opacity="0.8"/>
<rect x="1500.70" y="173.50" width="1.79" height="0.70" fill="#fff" opacity="0.8"/>
<rect x="1509.57" y="173.50" width="0.98" height="0.70" fill="#fff" opacity="0.8"/>
<rect x="1227.61" y="178.50" width="1.78" height="0.70" fill="#fff" opacity="0.8"/>
<rect x="1232.32" y="178.50" width="1.68" height="0.70" fill="#fff" opacity="0.8"/>
<rect x="1239.81" y="178.50" width="0.99" height="0.70" fill="#fff" opacity="0.8"/>
<rect x="1244.27" y="178.50" width="0.61" height="0.70" fill="#fff" opacity="0.8"/>
<rect x="1255.78" y="178.50" width="0.73" height="0.70" fill="#fff" opacity="0.8"/>
<rect x="1270.21" y="178.50" width="0.74" height="0.70" fill="#fff" opacity="0.8"/>
<rect x="1275.11" y="178.50" width="0.93" height="0.70" fill="#fff" opacity="0.8"/>
<rect x="1279.33" y="178.50" width="1.38" height="0.70" fill="#fff" opacity="0.8"/>
<rect x="1338.03" y="178.50" width="0.70" height="0.70" fill="#fff" opacity="0.8"/>
<rect x="1356.46" y="178.50" width="1.65" height="0.70" fill="#fff" opacity="0.8"/>
<rect x="1379.80" y="178.50" width="1.45" height="0.70" fill="#fff" opacity="0.8"/>
<rect x="1386.54" y="178.50" width="1.35" height="0.70" fill="#fff" opacity="0.8"/>
<rect x="1440.11" y="178.50" width="0.71" height="0.70" fill="#fff" opacity="0.8"/>
<rect x="1451.17" y="178.50" width="0.83" height="0.70" fill="#fff" opacity="0.8"/>
<rect x="1459.87" y="178.50" width="1.71" height="0.70" fill="#fff" opacity="0.8"/>
<rect x="1492.88" y="178.50" width="0.65" height="0.70" fill="#fff" opacity="0.8"/>
<rect x="1503.75" y="178.50" width="0.74" height="0.70" fill="#fff" opacity="0.8"/>
<rect x="1533.22" y="178.50" width="0.61" height="0.70" fill="#fff" opacity="0.8"/>
<line x1="1541.00" y1="145.00" x2="1541.00" y2="203.00" stroke="#000" stroke-width="2.2" stroke-linecap="butt"/>
<line x1="1541.00" y1="175.40" x2="1552.00" y2="175.40" stroke="#000" stroke-width="3.2" stroke-linecap="butt"/>
<path d="M1137.6,158.0 Q1137.6,164.0 1142.6,164.0 L1137.6,165.0 Z" fill="#000"/>
<path d="M1137.6,192.0 Q1137.6,186.0 1142.6,186.0 L1137.6,185.0 Z" fill="#000"/>
<text x="178.80" y="259.30" font-family="'Liberation Sans', sans-serif" font-weight="normal" font-size="43" fill="#000" >Vehicle</text>
<text x="761.10" y="259.20" font-family="'Liberation Sans', sans-serif" font-weight="normal" font-size="43" fill="#000" >EP</text>
<text x="1266.70" y="259.70" font-family="'Liberation Sans', sans-serif" font-weight="normal" font-size="43" fill="#000" >EP+Pico</text>
<line x1="438.50" y1="495.10" x2="438.50" y2="896.10" stroke="#000" stroke-width="3.8" stroke-linecap="butt"/>
<line x1="421.50" y1="497.00" x2="440.40" y2="497.00" stroke="#000" stroke-width="3.8" stroke-linecap="butt"/>
<text x="350.50" y="507.72" font-family="'Liberation Sans', sans-serif" font-weight="bold" font-size="30.2" fill="#000" >1000</text>
<line x1="421.50" y1="629.40" x2="440.40" y2="629.40" stroke="#000" stroke-width="3.8" stroke-linecap="butt"/>
<text x="367.50" y="640.12" font-family="'Liberation Sans', sans-serif" font-weight="bold" font-size="30.2" fill="#000" >500</text>
<line x1="421.50" y1="894.20" x2="440.40" y2="894.20" stroke="#000" stroke-width="3.8" stroke-linecap="butt"/>
<text x="356.50" y="904.92" font-family="'Liberation Sans', sans-serif" font-weight="bold" font-size="30.2" fill="#000" >-500</text>
<line x1="140.30" y1="761.80" x2="736.70" y2="761.80" stroke="#000" stroke-width="3.8" stroke-linecap="butt"/>
<line x1="142.20" y1="759.90" x2="142.20" y2="778.30" stroke="#000" stroke-width="3.8" stroke-linecap="butt"/>
<line x1="290.35" y1="759.90" x2="290.35" y2="778.30" stroke="#000" stroke-width="3.8" stroke-linecap="butt"/>
<line x1="586.65" y1="759.90" x2="586.65" y2="778.30" stroke="#000" stroke-width="3.8" stroke-linecap="butt"/>
<line x1="734.80" y1="759.90" x2="734.80" y2="778.30" stroke="#000" stroke-width="3.8" stroke-linecap="butt"/>
<text x="111.70" y="811.20" font-family="'Liberation Sans', sans-serif" font-weight="bold" font-size="30.2" fill="#000" >-100</text>
<text x="268.35" y="811.20" font-family="'Liberation Sans', sans-serif" font-weight="bold" font-size="30.2" fill="#000" >-50</text>
<text x="569.65" y="811.20" font-family="'Liberation Sans', sans-serif" font-weight="bold" font-size="30.2" fill="#000" >50</text>
<text x="709.80" y="811.20" font-family="'Liberation Sans', sans-serif" font-weight="bold" font-size="30.2" fill="#000" >100</text>
<text x="462.00" y="500.50" font-family="'Liberation Sans', sans-serif" font-weight="bold" font-size="33" fill="#000" >I (pA)</text>
<text x="656.50" y="863.00" font-family="'Liberation Sans', sans-serif" font-weight="bold" font-size="33" fill="#000" >V (mV)</text>
<text x="345.80" y="433.80" font-family="'Liberation Sans', sans-serif" font-weight="bold" font-size="42.6" fill="#000" >TRPC4</text>
<text x="2.70" y="415.00" font-family="'Liberation Sans', sans-serif" font-weight="bold" font-size="45" fill="#000" >B</text>
<g>
<line x1="127.00" y1="507.60" x2="168.90" y2="507.60" stroke="#000" stroke-width="4.0" stroke-linecap="butt"/>
</g>
<g>
<circle cx="147.95" cy="507.60" r="8.00" fill="#000" />
</g>
<text x="193.30" y="520.50" font-family="'Liberation Sans', sans-serif" font-weight="normal" font-size="31.5" fill="#000" >Vehicle</text>
<g>
<line x1="127.00" y1="561.00" x2="168.90" y2="561.00" stroke="#ff0000" stroke-width="4.0" stroke-linecap="butt"/>
</g>
<g>
<rect x="139.85" y="552.90" width="16.20" height="16.20" fill="#ff0000" />
</g>
<text x="192.50" y="572.80" font-family="'Liberation Sans', sans-serif" font-weight="normal" font-size="31.5" fill="#000" >EP</text>
<g>
<line x1="127.00" y1="614.00" x2="168.90" y2="614.00" stroke="#0000c0" stroke-width="4.0" stroke-linecap="butt"/>
</g>
<g>
<polygon points="139.75,621.80 156.15,621.80 147.95,606.20" fill="#0000c0"/>
</g>
<text x="192.50" y="626.10" font-family="'Liberation Sans', sans-serif" font-weight="normal" font-size="31.5" fill="#000" >EP+Pico</text>
<g>
<line x1="142.20" y1="823.20" x2="142.20" y2="845.20" stroke="#ff0000" stroke-width="2.0" stroke-linecap="butt"/>
<line x1="134.45" y1="823.20" x2="149.95" y2="823.20" stroke="#ff0000" stroke-width="2.0" stroke-linecap="butt"/>
<line x1="134.45" y1="845.20" x2="149.95" y2="845.20" stroke="#ff0000" stroke-width="2.0" stroke-linecap="butt"/>
<line x1="201.46" y1="813.80" x2="201.46" y2="834.80" stroke="#ff0000" stroke-width="2.0" stroke-linecap="butt"/>
<line x1="193.71" y1="813.80" x2="209.21" y2="813.80" stroke="#ff0000" stroke-width="2.0" stroke-linecap="butt"/>
<line x1="193.71" y1="834.80" x2="209.21" y2="834.80" stroke="#ff0000" stroke-width="2.0" stroke-linecap="butt"/>
<line x1="557.02" y1="676.70" x2="557.02" y2="699.50" stroke="#ff0000" stroke-width="2.0" stroke-linecap="butt"/>
<line x1="549.27" y1="676.70" x2="564.77" y2="676.70" stroke="#ff0000" stroke-width="2.0" stroke-linecap="butt"/>
<line x1="549.27" y1="699.50" x2="564.77" y2="699.50" stroke="#ff0000" stroke-width="2.0" stroke-linecap="butt"/>
<line x1="616.28" y1="631.10" x2="616.28" y2="666.10" stroke="#ff0000" stroke-width="2.0" stroke-linecap="butt"/>
<line x1="608.53" y1="631.10" x2="624.03" y2="631.10" stroke="#ff0000" stroke-width="2.0" stroke-linecap="butt"/>
<line x1="608.53" y1="666.10" x2="624.03" y2="666.10" stroke="#ff0000" stroke-width="2.0" stroke-linecap="butt"/>
<line x1="675.54" y1="584.40" x2="675.54" y2="627.60" stroke="#ff0000" stroke-width="2.0" stroke-linecap="butt"/>
<line x1="667.79" y1="584.40" x2="683.29" y2="584.40" stroke="#ff0000" stroke-width="2.0" stroke-linecap="butt"/>
<line x1="667.79" y1="627.60" x2="683.29" y2="627.60" stroke="#ff0000" stroke-width="2.0" stroke-linecap="butt"/>
<line x1="734.80" y1="541.70" x2="734.80" y2="589.30" stroke="#ff0000" stroke-width="2.0" stroke-linecap="butt"/>
<line x1="727.05" y1="541.70" x2="742.55" y2="541.70" stroke="#ff0000" stroke-width="2.0" stroke-linecap="butt"/>
<line x1="727.05" y1="589.30" x2="742.55" y2="589.30" stroke="#ff0000" stroke-width="2.0" stroke-linecap="butt"/>
<polyline points="142.20,834.20 201.46,824.30 260.72,808.00 319.98,790.60 379.24,774.70 438.50,749.40 497.76,720.50 557.02,688.10 616.28,648.60 675.54,606.00 734.80,565.50" fill="none" stroke="#ff0000" stroke-width="3.6" stroke-linejoin="round" />
<rect x="134.10" y="826.10" width="16.20" height="16.20" fill="#ff0000" />
<rect x="193.36" y="816.20" width="16.20" height="16.20" fill="#ff0000" />
<rect x="252.62" y="799.90" width="16.20" height="16.20" fill="#ff0000" />
<rect x="311.88" y="782.50" width="16.20" height="16.20" fill="#ff0000" />
<rect x="371.14" y="766.60" width="16.20" height="16.20" fill="#ff0000" />
<rect x="430.40" y="741.30" width="16.20" height="16.20" fill="#ff0000" />
<rect x="489.66" y="712.40" width="16.20" height="16.20" fill="#ff0000" />
<rect x="548.92" y="680.00" width="16.20" height="16.20" fill="#ff0000" />
<rect x="608.18" y="640.50" width="16.20" height="16.20" fill="#ff0000" />
<rect x="667.44" y="597.90" width="16.20" height="16.20" fill="#ff0000" />
<rect x="726.70" y="557.40" width="16.20" height="16.20" fill="#ff0000" />
</g>
<g>
<line x1="734.80" y1="717.30" x2="734.80" y2="738.30" stroke="#0000c0" stroke-width="2.0" stroke-linecap="butt"/>
<line x1="727.05" y1="717.30" x2="742.55" y2="717.30" stroke="#0000c0" stroke-width="2.0" stroke-linecap="butt"/>
<line x1="727.05" y1="738.30" x2="742.55" y2="738.30" stroke="#0000c0" stroke-width="2.0" stroke-linecap="butt"/>
<line x1="616.28" y1="730.90" x2="616.28" y2="741.30" stroke="#0000c0" stroke-width="2.0" stroke-linecap="butt"/>
<line x1="608.53" y1="730.90" x2="624.03" y2="730.90" stroke="#0000c0" stroke-width="2.0" stroke-linecap="butt"/>
<line x1="675.54" y1="723.80" x2="675.54" y2="735.30" stroke="#0000c0" stroke-width="2.0" stroke-linecap="butt"/>
<line x1="667.79" y1="723.80" x2="683.29" y2="723.80" stroke="#0000c0" stroke-width="2.0" stroke-linecap="butt"/>
<polyline points="142.20,781.50 201.46,777.60 260.72,773.20 319.98,769.00 379.24,764.50 438.50,758.50 497.76,751.50 557.02,745.00 616.28,741.30 675.54,735.30 734.80,727.80" fill="none" stroke="#0000c0" stroke-width="4.0" stroke-linejoin="round" />
<polygon points="134.00,789.25 150.40,789.25 142.20,773.75" fill="#0000c0"/>
<polygon points="193.26,785.35 209.66,785.35 201.46,769.85" fill="#0000c0"/>
<polygon points="252.52,780.95 268.92,780.95 260.72,765.45" fill="#0000c0"/>
<polygon points="311.78,776.75 328.18,776.75 319.98,761.25" fill="#0000c0"/>
<polygon points="371.04,772.25 387.44,772.25 379.24,756.75" fill="#0000c0"/>
<polygon points="430.30,766.25 446.70,766.25 438.50,750.75" fill="#0000c0"/>
<polygon points="489.56,759.25 505.96,759.25 497.76,743.75" fill="#0000c0"/>
<polygon points="548.82,752.75 565.22,752.75 557.02,737.25" fill="#0000c0"/>
<polygon points="608.08,749.05 624.48,749.05 616.28,733.55" fill="#0000c0"/>
<polygon points="667.34,743.05 683.74,743.05 675.54,727.55" fill="#0000c0"/>
<polygon points="726.60,735.55 743.00,735.55 734.80,720.05" fill="#0000c0"/>
</g>
<g>
<polyline points="142.20,776.40 201.46,772.90 260.72,769.60 319.98,766.40 379.24,762.10 438.50,756.60 497.76,750.10 557.02,744.70 616.28,738.70 675.54,729.10 734.80,723.70" fill="none" stroke="#000" stroke-width="4.2" stroke-linejoin="round" />
<circle cx="142.20" cy="776.40" r="8.00" fill="#000" />
<circle cx="201.46" cy="772.90" r="8.00" fill="#000" />
<circle cx="260.72" cy="769.60" r="8.00" fill="#000" />
<circle cx="319.98" cy="766.40" r="8.00" fill="#000" />
<circle cx="379.24" cy="762.10" r="8.00" fill="#000" />
<circle cx="438.50" cy="756.60" r="8.00" fill="#000" />
<circle cx="497.76" cy="750.10" r="8.00" fill="#000" />
<circle cx="557.02" cy="744.70" r="8.00" fill="#000" />
<circle cx="616.28" cy="738.70" r="8.00" fill="#000" />
<circle cx="675.54" cy="729.10" r="8.00" fill="#000" />
<circle cx="734.80" cy="723.70" r="8.00" fill="#000" />
</g>
<text x="865.00" y="414.70" font-family="'Liberation Sans', sans-serif" font-weight="bold" font-size="45" fill="#000" >C</text>
<path d="M1056.10,728.20 V699.30 H1089.70 V728.20" fill="none" stroke="#000" stroke-width="5.8" stroke-linejoin="miter"/>
<path d="M1115.30,728.20 V566.20 H1148.60 V728.20" fill="none" stroke="#ff0000" stroke-width="5.8" stroke-linejoin="miter"/>
<path d="M1174.80,728.20 V702.30 H1209.00 V728.20" fill="none" stroke="#0000ff" stroke-width="5.8" stroke-linejoin="miter"/>
<path d="M1273.90,728.20 V737.60 H1306.90 V728.20" fill="none" stroke="#000" stroke-width="5.8" stroke-linejoin="miter"/>
<path d="M1332.90,728.20 V786.40 H1366.20 V728.20" fill="none" stroke="#ff0000" stroke-width="5.8" stroke-linejoin="miter"/>
<path d="M1392.00,728.20 V741.80 H1425.50 V728.20" fill="none" stroke="#0000ff" stroke-width="5.8" stroke-linejoin="miter"/>
<line x1="1072.80" y1="689.80" x2="1072.80" y2="699.00" stroke="#000" stroke-width="1.8" stroke-linecap="butt"/>
<line x1="1063.10" y1="689.80" x2="1082.50" y2="689.80" stroke="#000" stroke-width="1.8" stroke-linecap="butt"/>
<line x1="1131.70" y1="543.10" x2="1131.70" y2="583.30" stroke="#ff0000" stroke-width="1.8" stroke-linecap="butt"/>
<line x1="1122.00" y1="543.10" x2="1141.40" y2="543.10" stroke="#ff0000" stroke-width="1.8" stroke-linecap="butt"/>
<line x1="1122.00" y1="583.30" x2="1141.40" y2="583.30" stroke="#ff0000" stroke-width="1.8" stroke-linecap="butt"/>
<line x1="1191.40" y1="690.80" x2="1191.40" y2="702.00" stroke="#0000ff" stroke-width="1.8" stroke-linecap="butt"/>
<line x1="1181.70" y1="690.80" x2="1201.10" y2="690.80" stroke="#0000ff" stroke-width="1.8" stroke-linecap="butt"/>
<line x1="1349.60" y1="780.70" x2="1349.60" y2="796.00" stroke="#ff0000" stroke-width="1.8" stroke-linecap="butt"/>
<line x1="1339.90" y1="780.70" x2="1359.30" y2="780.70" stroke="#ff0000" stroke-width="1.8" stroke-linecap="butt"/>
<line x1="1408.90" y1="750.00" x2="1408.90" y2="742.00" stroke="#0000ff" stroke-width="1.8" stroke-linecap="butt"/>
<line x1="1399.20" y1="750.00" x2="1418.60" y2="750.00" stroke="#0000ff" stroke-width="1.8" stroke-linecap="butt"/>
<circle cx="1084.20" cy="679.30" r="8.70" fill="#000" />
<circle cx="1072.80" cy="694.30" r="8.70" fill="#000" />
<circle cx="1061.60" cy="707.50" r="8.70" fill="#000" />
<circle cx="1084.20" cy="703.30" r="8.70" fill="#000" />
<circle cx="1131.70" cy="520.20" r="8.70" fill="#ff0000" />
<circle cx="1120.20" cy="550.10" r="8.70" fill="#ff0000" />
<circle cx="1143.50" cy="565.40" r="8.70" fill="#ff0000" />
<circle cx="1131.70" cy="615.70" r="8.70" fill="#ff0000" />
<circle cx="1191.40" cy="674.00" r="8.70" fill="#0000ff" />
<circle cx="1191.40" cy="702.00" r="8.70" fill="#0000ff" />
<circle cx="1180.50" cy="710.30" r="8.70" fill="#0000ff" />
<circle cx="1202.90" cy="710.30" r="8.70" fill="#0000ff" />
<circle cx="1278.80" cy="744.70" r="8.70" fill="#000" />
<circle cx="1283.50" cy="737.00" r="8.70" fill="#000" />
<circle cx="1292.00" cy="739.50" r="8.70" fill="#000" />
<circle cx="1301.40" cy="739.50" r="8.70" fill="#000" />
<circle cx="1349.60" cy="765.30" r="8.70" fill="#ff0000" />
<circle cx="1349.60" cy="789.30" r="8.70" fill="#ff0000" />
<circle cx="1338.40" cy="802.60" r="8.70" fill="#ff0000" />
<circle cx="1360.70" cy="800.50" r="8.70" fill="#ff0000" />
<circle cx="1395.00" cy="739.00" r="8.70" fill="#0000ff" />
<circle cx="1408.90" cy="737.70" r="8.70" fill="#0000ff" />
<circle cx="1420.00" cy="740.50" r="8.70" fill="#0000ff" />
<circle cx="1408.90" cy="760.00" r="8.70" fill="#0000ff" />
<line x1="1033.40" y1="503.20" x2="1033.40" y2="923.60" stroke="#000" stroke-width="3.8" stroke-linecap="butt"/>
<line x1="1016.00" y1="505.10" x2="1033.40" y2="505.10" stroke="#000" stroke-width="3.8" stroke-linecap="butt"/>
<text x="941.00" y="516.25" font-family="'Liberation Sans', sans-serif" font-weight="bold" font-size="31.4" fill="#000" >1000</text>
<line x1="1016.00" y1="616.65" x2="1033.40" y2="616.65" stroke="#000" stroke-width="3.8" stroke-linecap="butt"/>
<text x="958.00" y="627.80" font-family="'Liberation Sans', sans-serif" font-weight="bold" font-size="31.4" fill="#000" >500</text>
<line x1="1016.00" y1="839.75" x2="1033.40" y2="839.75" stroke="#000" stroke-width="3.8" stroke-linecap="butt"/>
<text x="948.00" y="850.90" font-family="'Liberation Sans', sans-serif" font-weight="bold" font-size="31.4" fill="#000" >-500</text>
<line x1="1016.00" y1="728.20" x2="1449.80" y2="728.20" stroke="#000" stroke-width="3.8" stroke-linecap="butt"/>
<text x="993.00" y="739.35" font-family="'Liberation Sans', sans-serif" font-weight="bold" font-size="31.4" fill="#000" >0</text>
<line x1="1031.50" y1="921.70" x2="1449.80" y2="921.70" stroke="#000" stroke-width="3.8" stroke-linecap="butt"/>
<line x1="1131.50" y1="921.70" x2="1131.50" y2="938.70" stroke="#000" stroke-width="3.8" stroke-linecap="butt"/>
<line x1="1349.40" y1="921.70" x2="1349.40" y2="938.70" stroke="#000" stroke-width="3.8" stroke-linecap="butt"/>
<text x="1067.40" y="971.20" font-family="'Liberation Sans', sans-serif" font-weight="bold" font-size="31.3" fill="#000" >+100 mV</text>
<text x="1289.40" y="971.20" font-family="'Liberation Sans', sans-serif" font-weight="bold" font-size="31.3" fill="#000" >-100 mV</text>
<path d="M1072.8,654.2 V471 H1131.7 V494.7" stroke="#000" stroke-width="3.3" fill="none" stroke-linejoin="miter" />
<path d="M1131.7,406.3 V381.7 H1191.4 V649.2" stroke="#000" stroke-width="3.3" fill="none" stroke-linejoin="miter" />
<text x="1056.70" y="465.15" font-family="'DejaVu Sans', sans-serif" font-weight="normal" font-size="40.5" fill="#000" letter-spacing="3.75" stroke="#000" stroke-width="1.0" stroke-linejoin="miter">****</text>
<text x="1116.00" y="376.45" font-family="'DejaVu Sans', sans-serif" font-weight="normal" font-size="40.5" fill="#000" letter-spacing="3.75" stroke="#000" stroke-width="1.0" stroke-linejoin="miter">****</text>
<path d="M1290.2,778.9 V845.8 H1293" stroke="#000" stroke-width="3.3" fill="none" stroke-linejoin="miter" />
<path d="M1350.2,845.8 V829.8" stroke="#000" stroke-width="3.3" fill="none" stroke-linejoin="miter" />
<text x="1299.30" y="878.45" font-family="'DejaVu Sans', sans-serif" font-weight="normal" font-size="40.5" fill="#000" letter-spacing="4.4" stroke="#000" stroke-width="1.0" stroke-linejoin="miter">**</text>
<path d="M1351,876.2 V889.1 H1370.5" stroke="#000" stroke-width="3.3" fill="none" stroke-linejoin="miter" />
<path d="M1397.7,889.1 H1411.7 V780.7" stroke="#000" stroke-width="3.3" fill="none" stroke-linejoin="miter" />
<text x="1373.00" y="923.65" font-family="'DejaVu Sans', sans-serif" font-weight="normal" font-size="40.5" fill="#000" letter-spacing="3.75" stroke="#000" stroke-width="1.0" stroke-linejoin="miter">*</text>
<text transform="rotate(-90)" x="-756.30" y="920.00" font-family="'Liberation Sans', sans-serif" font-weight="bold" font-size="33.5" fill="#000">I (pA)</text>
<circle cx="1346.30" cy="454.50" r="8.50" fill="#000" />
<circle cx="1346.30" cy="502.70" r="8.50" fill="#ff0000" />
<circle cx="1346.30" cy="550.70" r="8.50" fill="#0000ff" />
<text x="1393.60" y="464.20" font-family="'Liberation Sans', sans-serif" font-weight="normal" font-size="28.5" fill="#000" >Vehicle</text>
<text x="1392.90" y="512.00" font-family="'Liberation Sans', sans-serif" font-weight="normal" font-size="28.5" fill="#000" >EP</text>
<text x="1392.90" y="560.20" font-family="'Liberation Sans', sans-serif" font-weight="normal" font-size="28.5" fill="#000" >EP+Pico</text>
<line x1="434.80" y1="1189.25" x2="434.80" y2="1589.80" stroke="#000" stroke-width="3.8" stroke-linecap="butt"/>
<line x1="417.80" y1="1191.15" x2="436.70" y2="1191.15" stroke="#000" stroke-width="3.8" stroke-linecap="butt"/>
<text x="364.00" y="1201.80" font-family="'Liberation Sans', sans-serif" font-weight="bold" font-size="30" fill="#000" >300</text>
<line x1="417.80" y1="1270.50" x2="436.70" y2="1270.50" stroke="#000" stroke-width="3.8" stroke-linecap="butt"/>
<text x="364.00" y="1281.15" font-family="'Liberation Sans', sans-serif" font-weight="bold" font-size="30" fill="#000" >200</text>
<line x1="417.80" y1="1349.85" x2="436.70" y2="1349.85" stroke="#000" stroke-width="3.8" stroke-linecap="butt"/>
<text x="364.00" y="1360.50" font-family="'Liberation Sans', sans-serif" font-weight="bold" font-size="30" fill="#000" >100</text>
<line x1="417.80" y1="1508.55" x2="436.70" y2="1508.55" stroke="#000" stroke-width="3.8" stroke-linecap="butt"/>
<text x="354.00" y="1519.20" font-family="'Liberation Sans', sans-serif" font-weight="bold" font-size="30" fill="#000" >-100</text>
<line x1="417.80" y1="1587.90" x2="436.70" y2="1587.90" stroke="#000" stroke-width="3.8" stroke-linecap="butt"/>
<text x="354.00" y="1598.55" font-family="'Liberation Sans', sans-serif" font-weight="bold" font-size="30" fill="#000" >-200</text>
<line x1="135.90" y1="1429.20" x2="733.70" y2="1429.20" stroke="#000" stroke-width="3.8" stroke-linecap="butt"/>
<line x1="137.80" y1="1427.30" x2="137.80" y2="1445.70" stroke="#000" stroke-width="3.8" stroke-linecap="butt"/>
<line x1="286.30" y1="1427.30" x2="286.30" y2="1445.70" stroke="#000" stroke-width="3.8" stroke-linecap="butt"/>
<line x1="583.30" y1="1427.30" x2="583.30" y2="1445.70" stroke="#000" stroke-width="3.8" stroke-linecap="butt"/>
<line x1="731.80" y1="1427.30" x2="731.80" y2="1445.70" stroke="#000" stroke-width="3.8" stroke-linecap="butt"/>
<text x="107.80" y="1479.50" font-family="'Liberation Sans', sans-serif" font-weight="bold" font-size="30" fill="#000" >-100</text>
<text x="264.30" y="1479.50" font-family="'Liberation Sans', sans-serif" font-weight="bold" font-size="30" fill="#000" >-50</text>
<text x="566.30" y="1479.50" font-family="'Liberation Sans', sans-serif" font-weight="bold" font-size="30" fill="#000" >50</text>
<text x="706.80" y="1479.50" font-family="'Liberation Sans', sans-serif" font-weight="bold" font-size="30" fill="#000" >100</text>
<text x="463.50" y="1205.00" font-family="'Liberation Sans', sans-serif" font-weight="bold" font-size="33" fill="#000" >I (pA)</text>
<text x="649.60" y="1530.70" font-family="'Liberation Sans', sans-serif" font-weight="bold" font-size="33" fill="#000" >V (mV)</text>
<text x="306.50" y="1127.50" font-family="'Liberation Sans', sans-serif" font-weight="bold" font-size="42.6" fill="#000" >Naive HEK</text>
<text x="5.00" y="1108.10" font-family="'Liberation Sans', sans-serif" font-weight="bold" font-size="45" fill="#000" >D</text>
<g>
<line x1="152.40" y1="1226.60" x2="194.80" y2="1226.60" stroke="#000" stroke-width="4.0" stroke-linecap="butt"/>
</g>
<g>
<circle cx="173.60" cy="1226.60" r="8.00" fill="#000" />
</g>
<text x="218.90" y="1238.70" font-family="'Liberation Sans', sans-serif" font-weight="normal" font-size="32" fill="#000" >Vehicle</text>
<g>
<line x1="152.40" y1="1279.70" x2="194.80" y2="1279.70" stroke="#ff0000" stroke-width="4.0" stroke-linecap="butt" opacity="0.75"/>
</g>
<g>
<rect x="165.50" y="1271.60" width="16.20" height="16.20" fill="#ff0000"  opacity="0.75"/>
</g>
<text x="219.00" y="1291.60" font-family="'Liberation Sans', sans-serif" font-weight="normal" font-size="32" fill="#000" >EP</text>
<g>
<line x1="137.80" y1="1480.90" x2="137.80" y2="1508.30" stroke="#ff0000" stroke-width="2.0" stroke-linecap="butt" opacity="0.75"/>
<line x1="130.05" y1="1480.90" x2="145.55" y2="1480.90" stroke="#ff0000" stroke-width="2.0" stroke-linecap="butt" opacity="0.75"/>
<line x1="130.05" y1="1508.30" x2="145.55" y2="1508.30" stroke="#ff0000" stroke-width="2.0" stroke-linecap="butt" opacity="0.75"/>
<line x1="197.20" y1="1468.50" x2="197.20" y2="1492.50" stroke="#ff0000" stroke-width="2.0" stroke-linecap="butt" opacity="0.75"/>
<line x1="189.45" y1="1468.50" x2="204.95" y2="1468.50" stroke="#ff0000" stroke-width="2.0" stroke-linecap="butt" opacity="0.75"/>
<line x1="189.45" y1="1492.50" x2="204.95" y2="1492.50" stroke="#ff0000" stroke-width="2.0" stroke-linecap="butt" opacity="0.75"/>
<line x1="553.60" y1="1343.80" x2="553.60" y2="1366.80" stroke="#ff0000" stroke-width="2.0" stroke-linecap="butt" opacity="0.75"/>
<line x1="545.85" y1="1343.80" x2="561.35" y2="1343.80" stroke="#ff0000" stroke-width="2.0" stroke-linecap="butt" opacity="0.75"/>
<line x1="545.85" y1="1366.80" x2="561.35" y2="1366.80" stroke="#ff0000" stroke-width="2.0" stroke-linecap="butt" opacity="0.75"/>
<line x1="613.00" y1="1320.00" x2="613.00" y2="1347.40" stroke="#ff0000" stroke-width="2.0" stroke-linecap="butt" opacity="0.75"/>
<line x1="605.25" y1="1320.00" x2="620.75" y2="1320.00" stroke="#ff0000" stroke-width="2.0" stroke-linecap="butt" opacity="0.75"/>
<line x1="605.25" y1="1347.40" x2="620.75" y2="1347.40" stroke="#ff0000" stroke-width="2.0" stroke-linecap="butt" opacity="0.75"/>
<line x1="672.40" y1="1299.10" x2="672.40" y2="1327.90" stroke="#ff0000" stroke-width="2.0" stroke-linecap="butt" opacity="0.75"/>
<line x1="664.65" y1="1299.10" x2="680.15" y2="1299.10" stroke="#ff0000" stroke-width="2.0" stroke-linecap="butt" opacity="0.75"/>
<line x1="664.65" y1="1327.90" x2="680.15" y2="1327.90" stroke="#ff0000" stroke-width="2.0" stroke-linecap="butt" opacity="0.75"/>
<line x1="731.80" y1="1277.40" x2="731.80" y2="1309.60" stroke="#ff0000" stroke-width="2.0" stroke-linecap="butt" opacity="0.75"/>
<line x1="724.05" y1="1277.40" x2="739.55" y2="1277.40" stroke="#ff0000" stroke-width="2.0" stroke-linecap="butt" opacity="0.75"/>
<line x1="724.05" y1="1309.60" x2="739.55" y2="1309.60" stroke="#ff0000" stroke-width="2.0" stroke-linecap="butt" opacity="0.75"/>
<polyline points="137.80,1494.60 197.20,1480.50 256.60,1465.70 316.00,1452.30 375.40,1434.60 434.80,1405.00 494.20,1377.00 553.60,1355.30 613.00,1333.70 672.40,1313.50 731.80,1293.50" fill="none" stroke="#ff0000" stroke-width="4.0" stroke-linejoin="round"  opacity="0.75"/>
<rect x="129.70" y="1486.50" width="16.20" height="16.20" fill="#ff0000"  opacity="0.75"/>
<rect x="189.10" y="1472.40" width="16.20" height="16.20" fill="#ff0000"  opacity="0.75"/>
<rect x="248.50" y="1457.60" width="16.20" height="16.20" fill="#ff0000"  opacity="0.75"/>
<rect x="307.90" y="1444.20" width="16.20" height="16.20" fill="#ff0000"  opacity="0.75"/>
<rect x="367.30" y="1426.50" width="16.20" height="16.20" fill="#ff0000"  opacity="0.75"/>
<rect x="426.70" y="1396.90" width="16.20" height="16.20" fill="#ff0000"  opacity="0.75"/>
<rect x="486.10" y="1368.90" width="16.20" height="16.20" fill="#ff0000"  opacity="0.75"/>
<rect x="545.50" y="1347.20" width="16.20" height="16.20" fill="#ff0000"  opacity="0.75"/>
<rect x="604.90" y="1325.60" width="16.20" height="16.20" fill="#ff0000"  opacity="0.75"/>
<rect x="664.30" y="1305.40" width="16.20" height="16.20" fill="#ff0000"  opacity="0.75"/>
<rect x="723.70" y="1285.40" width="16.20" height="16.20" fill="#ff0000"  opacity="0.75"/>
</g>
<g>
<line x1="137.80" y1="1478.60" x2="137.80" y2="1507.00" stroke="#000" stroke-width="2.0" stroke-linecap="butt"/>
<line x1="130.05" y1="1478.60" x2="145.55" y2="1478.60" stroke="#000" stroke-width="2.0" stroke-linecap="butt"/>
<line x1="130.05" y1="1507.00" x2="145.55" y2="1507.00" stroke="#000" stroke-width="2.0" stroke-linecap="butt"/>
<line x1="197.20" y1="1467.30" x2="197.20" y2="1489.90" stroke="#000" stroke-width="2.0" stroke-linecap="butt"/>
<line x1="189.45" y1="1467.30" x2="204.95" y2="1467.30" stroke="#000" stroke-width="2.0" stroke-linecap="butt"/>
<line x1="189.45" y1="1489.90" x2="204.95" y2="1489.90" stroke="#000" stroke-width="2.0" stroke-linecap="butt"/>
<line x1="256.60" y1="1457.30" x2="256.60" y2="1473.30" stroke="#000" stroke-width="2.0" stroke-linecap="butt"/>
<line x1="248.85" y1="1457.30" x2="264.35" y2="1457.30" stroke="#000" stroke-width="2.0" stroke-linecap="butt"/>
<line x1="248.85" y1="1473.30" x2="264.35" y2="1473.30" stroke="#000" stroke-width="2.0" stroke-linecap="butt"/>
<line x1="553.60" y1="1353.20" x2="553.60" y2="1369.20" stroke="#000" stroke-width="2.0" stroke-linecap="butt"/>
<line x1="545.85" y1="1353.20" x2="561.35" y2="1353.20" stroke="#000" stroke-width="2.0" stroke-linecap="butt"/>
<line x1="545.85" y1="1369.20" x2="561.35" y2="1369.20" stroke="#000" stroke-width="2.0" stroke-linecap="butt"/>
<line x1="613.00" y1="1330.90" x2="613.00" y2="1350.50" stroke="#000" stroke-width="2.0" stroke-linecap="butt"/>
<line x1="605.25" y1="1330.90" x2="620.75" y2="1330.90" stroke="#000" stroke-width="2.0" stroke-linecap="butt"/>
<line x1="605.25" y1="1350.50" x2="620.75" y2="1350.50" stroke="#000" stroke-width="2.0" stroke-linecap="butt"/>
<line x1="672.40" y1="1310.40" x2="672.40" y2="1332.40" stroke="#000" stroke-width="2.0" stroke-linecap="butt"/>
<line x1="664.65" y1="1310.40" x2="680.15" y2="1310.40" stroke="#000" stroke-width="2.0" stroke-linecap="butt"/>
<line x1="664.65" y1="1332.40" x2="680.15" y2="1332.40" stroke="#000" stroke-width="2.0" stroke-linecap="butt"/>
<line x1="731.80" y1="1293.50" x2="731.80" y2="1320.10" stroke="#000" stroke-width="2.0" stroke-linecap="butt"/>
<line x1="724.05" y1="1293.50" x2="739.55" y2="1293.50" stroke="#000" stroke-width="2.0" stroke-linecap="butt"/>
<line x1="724.05" y1="1320.10" x2="739.55" y2="1320.10" stroke="#000" stroke-width="2.0" stroke-linecap="butt"/>
<polyline points="137.80,1492.80 197.20,1478.60 256.60,1465.30 316.00,1452.00 375.40,1435.10 434.80,1410.80 494.20,1383.30 553.60,1361.20 613.00,1340.70 672.40,1321.40 731.80,1306.80" fill="none" stroke="#000" stroke-width="4.0" stroke-linejoin="round" />
<circle cx="137.80" cy="1492.80" r="8.00" fill="#000" />
<circle cx="197.20" cy="1478.60" r="8.00" fill="#000" />
<circle cx="256.60" cy="1465.30" r="8.00" fill="#000" />
<circle cx="316.00" cy="1452.00" r="8.00" fill="#000" />
<circle cx="375.40" cy="1435.10" r="8.00" fill="#000" />
<circle cx="434.80" cy="1410.80" r="8.00" fill="#000" />
<circle cx="494.20" cy="1383.30" r="8.00" fill="#000" />
<circle cx="553.60" cy="1361.20" r="8.00" fill="#000" />
<circle cx="613.00" cy="1340.70" r="8.00" fill="#000" />
<circle cx="672.40" cy="1321.40" r="8.00" fill="#000" />
<circle cx="731.80" cy="1306.80" r="8.00" fill="#000" />
</g>
<text x="864.20" y="1106.00" font-family="'Liberation Sans', sans-serif" font-weight="bold" font-size="45" fill="#000" >E</text>
<path d="M1080.85,1353.00 V1248.45 H1133.15 V1353.00" fill="none" stroke="#000" stroke-width="6.3" stroke-linejoin="miter"/>
<path d="M1169.15,1353.00 V1239.05 H1221.25 V1353.00" fill="none" stroke="#ff0000" stroke-width="6.3" stroke-linejoin="miter"/>
<path d="M1315.15,1353.00 V1407.65 H1367.65 V1353.00" fill="none" stroke="#000" stroke-width="6.3" stroke-linejoin="miter"/>
<path d="M1402.75,1353.00 V1410.55 H1455.55 V1353.00" fill="none" stroke="#ff0000" stroke-width="6.3" stroke-linejoin="miter"/>
<line x1="1106.80" y1="1254.20" x2="1106.80" y2="1240.00" stroke="#000" stroke-width="2.0" stroke-linecap="butt"/>
<line x1="1093.80" y1="1254.20" x2="1119.80" y2="1254.20" stroke="#000" stroke-width="2.0" stroke-linecap="butt"/>
<line x1="1195.20" y1="1224.50" x2="1195.20" y2="1247.30" stroke="#ff0000" stroke-width="2.0" stroke-linecap="butt"/>
<line x1="1181.20" y1="1224.50" x2="1209.20" y2="1224.50" stroke="#ff0000" stroke-width="2.0" stroke-linecap="butt"/>
<line x1="1181.20" y1="1247.30" x2="1209.20" y2="1247.30" stroke="#ff0000" stroke-width="2.0" stroke-linecap="butt"/>
<line x1="1341.10" y1="1397.70" x2="1341.10" y2="1423.90" stroke="#000" stroke-width="2.0" stroke-linecap="butt"/>
<line x1="1326.50" y1="1397.70" x2="1355.70" y2="1397.70" stroke="#000" stroke-width="2.0" stroke-linecap="butt"/>
<line x1="1326.50" y1="1423.90" x2="1355.70" y2="1423.90" stroke="#000" stroke-width="2.0" stroke-linecap="butt"/>
<line x1="1428.80" y1="1400.00" x2="1428.80" y2="1426.20" stroke="#ff0000" stroke-width="2.0" stroke-linecap="butt"/>
<line x1="1414.05" y1="1400.00" x2="1443.55" y2="1400.00" stroke="#ff0000" stroke-width="2.0" stroke-linecap="butt"/>
<line x1="1414.05" y1="1426.20" x2="1443.55" y2="1426.20" stroke="#ff0000" stroke-width="2.0" stroke-linecap="butt"/>
<circle cx="1106.30" cy="1199.60" r="8.90" fill="#000" />
<circle cx="1100.00" cy="1228.80" r="8.90" fill="#000" />
<circle cx="1127.90" cy="1232.60" r="8.90" fill="#000" />
<circle cx="1114.00" cy="1240.20" r="8.90" fill="#000" />
<circle cx="1086.00" cy="1242.70" r="8.90" fill="#000" />
<circle cx="1100.00" cy="1252.90" r="8.90" fill="#000" />
<circle cx="1100.00" cy="1278.30" r="8.90" fill="#000" />
<circle cx="1114.00" cy="1278.30" r="8.90" fill="#000" />
<circle cx="1174.40" cy="1200.40" r="8.90" fill="#ff0000" />
<circle cx="1215.50" cy="1197.00" r="8.90" fill="#ff0000" />
<circle cx="1215.50" cy="1216.90" r="8.90" fill="#ff0000" />
<circle cx="1174.40" cy="1225.50" r="8.90" fill="#ff0000" />
<circle cx="1215.50" cy="1237.70" r="8.90" fill="#ff0000" />
<circle cx="1174.40" cy="1249.80" r="8.90" fill="#ff0000" />
<circle cx="1174.40" cy="1279.50" r="8.90" fill="#ff0000" />
<circle cx="1215.50" cy="1279.50" r="8.90" fill="#ff0000" />
<circle cx="1361.70" cy="1365.10" r="8.90" fill="#000" />
<circle cx="1320.60" cy="1378.80" r="8.90" fill="#000" />
<circle cx="1341.10" cy="1376.30" r="8.90" fill="#000" />
<circle cx="1341.10" cy="1395.70" r="8.90" fill="#000" />
<circle cx="1361.70" cy="1420.00" r="8.90" fill="#000" />
<circle cx="1341.10" cy="1431.90" r="8.90" fill="#000" />
<circle cx="1330.80" cy="1461.10" r="8.90" fill="#000" />
<circle cx="1351.40" cy="1457.90" r="8.90" fill="#000" />
<circle cx="1449.40" cy="1364.60" r="8.90" fill="#ff0000" />
<circle cx="1428.80" cy="1381.10" r="8.90" fill="#ff0000" />
<circle cx="1449.40" cy="1393.10" r="8.90" fill="#ff0000" />
<circle cx="1408.50" cy="1396.50" r="8.90" fill="#ff0000" />
<circle cx="1449.40" cy="1413.10" r="8.90" fill="#ff0000" />
<circle cx="1428.80" cy="1430.80" r="8.90" fill="#ff0000" />
<circle cx="1439.10" cy="1457.90" r="8.90" fill="#ff0000" />
<circle cx="1418.80" cy="1467.90" r="8.90" fill="#ff0000" />
<line x1="1048.50" y1="1130.60" x2="1048.50" y2="1573.60" stroke="#000" stroke-width="3.8" stroke-linecap="butt"/>
<line x1="1029.70" y1="1132.50" x2="1048.50" y2="1132.50" stroke="#000" stroke-width="3.8" stroke-linecap="butt"/>
<text x="969.50" y="1144.21" font-family="'Liberation Sans', sans-serif" font-weight="bold" font-size="33.0" fill="#000" >300</text>
<line x1="1029.70" y1="1206.00" x2="1048.50" y2="1206.00" stroke="#000" stroke-width="3.8" stroke-linecap="butt"/>
<text x="969.50" y="1217.71" font-family="'Liberation Sans', sans-serif" font-weight="bold" font-size="33.0" fill="#000" >200</text>
<line x1="1029.70" y1="1279.50" x2="1048.50" y2="1279.50" stroke="#000" stroke-width="3.8" stroke-linecap="butt"/>
<text x="969.50" y="1291.21" font-family="'Liberation Sans', sans-serif" font-weight="bold" font-size="33.0" fill="#000" >100</text>
<line x1="1029.70" y1="1426.50" x2="1048.50" y2="1426.50" stroke="#000" stroke-width="3.8" stroke-linecap="butt"/>
<text x="958.50" y="1438.21" font-family="'Liberation Sans', sans-serif" font-weight="bold" font-size="33.0" fill="#000" >-100</text>
<line x1="1029.70" y1="1500.00" x2="1048.50" y2="1500.00" stroke="#000" stroke-width="3.8" stroke-linecap="butt"/>
<text x="958.50" y="1511.71" font-family="'Liberation Sans', sans-serif" font-weight="bold" font-size="33.0" fill="#000" >-200</text>
<line x1="1029.70" y1="1353.00" x2="1489.00" y2="1353.00" stroke="#000" stroke-width="3.8" stroke-linecap="butt"/>
<text x="1006.50" y="1364.71" font-family="'Liberation Sans', sans-serif" font-weight="bold" font-size="33.0" fill="#000" >0</text>
<line x1="1046.60" y1="1571.70" x2="1489.00" y2="1571.70" stroke="#000" stroke-width="3.8" stroke-linecap="butt"/>
<line x1="1150.50" y1="1571.70" x2="1150.50" y2="1588.70" stroke="#000" stroke-width="3.8" stroke-linecap="butt"/>
<line x1="1384.60" y1="1571.70" x2="1384.60" y2="1588.70" stroke="#000" stroke-width="3.8" stroke-linecap="butt"/>
<text x="1082.90" y="1626.20" font-family="'Liberation Sans', sans-serif" font-weight="bold" font-size="33" fill="#000" >+100 mV</text>
<text x="1320.80" y="1626.20" font-family="'Liberation Sans', sans-serif" font-weight="bold" font-size="33" fill="#000" >-100 mV</text>
<path d="M1106.9,1173.7 V1145 H1194.7 V1170.4" stroke="#000" stroke-width="3.6" fill="none" stroke-linejoin="miter" />
<text x="1132.30" y="1124.00" font-family="'Liberation Sans', sans-serif" font-weight="normal" font-size="34" fill="#000" >ns</text>
<path d="M1342,1481.6 V1503.1 H1433 V1481.6" stroke="#000" stroke-width="3.6" fill="none" stroke-linejoin="miter" />
<text x="1369.30" y="1539.40" font-family="'Liberation Sans', sans-serif" font-weight="normal" font-size="34" fill="#000" >ns</text>
<text transform="rotate(-90)" x="-1396.90" y="936.10" font-family="'Liberation Sans', sans-serif" font-weight="bold" font-size="35.5" fill="#000">I (pA)</text>
<circle cx="1398.30" cy="1141.60" r="9.00" fill="#000" />
<circle cx="1398.30" cy="1185.70" r="9.00" fill="#ff0000" />
<text x="1448.40" y="1151.60" font-family="'Liberation Sans', sans-serif" font-weight="normal" font-size="30" fill="#000" >Vehicle</text>
<text x="1448.20" y="1195.80" font-family="'Liberation Sans', sans-serif" font-weight="normal" font-size="30" fill="#000" >EP</text>
<line x1="439.60" y1="1867.45" x2="439.60" y2="2268.50" stroke="#000" stroke-width="3.8" stroke-linecap="butt"/>
<line x1="422.60" y1="1869.35" x2="441.50" y2="1869.35" stroke="#000" stroke-width="3.8" stroke-linecap="butt"/>
<text x="350.20" y="1880.18" font-family="'Liberation Sans', sans-serif" font-weight="bold" font-size="30.5" fill="#000" >1500</text>
<line x1="422.60" y1="1948.80" x2="441.50" y2="1948.80" stroke="#000" stroke-width="3.8" stroke-linecap="butt"/>
<text x="350.20" y="1959.63" font-family="'Liberation Sans', sans-serif" font-weight="bold" font-size="30.5" fill="#000" >1000</text>
<line x1="422.60" y1="2028.25" x2="441.50" y2="2028.25" stroke="#000" stroke-width="3.8" stroke-linecap="butt"/>
<text x="367.20" y="2039.08" font-family="'Liberation Sans', sans-serif" font-weight="bold" font-size="30.5" fill="#000" >500</text>
<line x1="422.60" y1="2187.15" x2="441.50" y2="2187.15" stroke="#000" stroke-width="3.8" stroke-linecap="butt"/>
<text x="357.20" y="2197.98" font-family="'Liberation Sans', sans-serif" font-weight="bold" font-size="30.5" fill="#000" >-500</text>
<line x1="422.60" y1="2266.60" x2="441.50" y2="2266.60" stroke="#000" stroke-width="3.8" stroke-linecap="butt"/>
<text x="340.20" y="2277.43" font-family="'Liberation Sans', sans-serif" font-weight="bold" font-size="30.5" fill="#000" >-1000</text>
<line x1="140.70" y1="2107.70" x2="738.50" y2="2107.70" stroke="#000" stroke-width="3.8" stroke-linecap="butt"/>
<line x1="142.60" y1="2105.80" x2="142.60" y2="2124.20" stroke="#000" stroke-width="3.8" stroke-linecap="butt"/>
<line x1="291.10" y1="2105.80" x2="291.10" y2="2124.20" stroke="#000" stroke-width="3.8" stroke-linecap="butt"/>
<line x1="588.10" y1="2105.80" x2="588.10" y2="2124.20" stroke="#000" stroke-width="3.8" stroke-linecap="butt"/>
<line x1="736.60" y1="2105.80" x2="736.60" y2="2124.20" stroke="#000" stroke-width="3.8" stroke-linecap="butt"/>
<text x="112.10" y="2158.20" font-family="'Liberation Sans', sans-serif" font-weight="bold" font-size="30.5" fill="#000" >-100</text>
<text x="269.10" y="2158.20" font-family="'Liberation Sans', sans-serif" font-weight="bold" font-size="30.5" fill="#000" >-50</text>
<text x="571.10" y="2158.20" font-family="'Liberation Sans', sans-serif" font-weight="bold" font-size="30.5" fill="#000" >50</text>
<text x="711.10" y="2158.20" font-family="'Liberation Sans', sans-serif" font-weight="bold" font-size="30.5" fill="#000" >100</text>
<text x="464.20" y="1887.50" font-family="'Liberation Sans', sans-serif" font-weight="bold" font-size="33" fill="#000" >I (pA)</text>
<text x="652.50" y="2202.10" font-family="'Liberation Sans', sans-serif" font-weight="bold" font-size="33" fill="#000" >V (mV)</text>
<text x="344.00" y="1808.60" font-family="'Liberation Sans', sans-serif" font-weight="bold" font-size="42.6" fill="#000" >TRPC4</text>
<text x="8.00" y="1781.10" font-family="'Liberation Sans', sans-serif" font-weight="bold" font-size="45" fill="#000" >F</text>
<g>
<line x1="130.00" y1="1886.00" x2="172.00" y2="1886.00" stroke="#000" stroke-width="4.0" stroke-linecap="butt"/>
</g>
<g>
<circle cx="151.00" cy="1886.00" r="8.00" fill="#000" />
</g>
<text x="196.20" y="1898.60" font-family="'Liberation Sans', sans-serif" font-weight="normal" font-size="32" fill="#000" >Vehicle</text>
<g>
<line x1="130.00" y1="1939.50" x2="172.00" y2="1939.50" stroke="#ff0000" stroke-width="4.0" stroke-linecap="butt"/>
</g>
<g>
<rect x="142.90" y="1931.40" width="16.20" height="16.20" fill="#ff0000" />
</g>
<text x="196.30" y="1951.90" font-family="'Liberation Sans', sans-serif" font-weight="normal" font-size="32" fill="#000" >EP</text>
<g>
<line x1="130.00" y1="1992.80" x2="172.00" y2="1992.80" stroke="#00c000" stroke-width="4.0" stroke-linecap="butt"/>
</g>
<g>
<polygon points="142.80,2000.60 159.20,2000.60 151.00,1985.00" fill="#00c000"/>
</g>
<text x="196.30" y="2005.00" font-family="'Liberation Sans', sans-serif" font-weight="normal" font-size="32" fill="#000" >EP+Yoh</text>
<g>
<line x1="142.60" y1="2187.30" x2="142.60" y2="2214.10" stroke="#ff0000" stroke-width="2.0" stroke-linecap="butt"/>
<line x1="134.85" y1="2187.30" x2="150.35" y2="2187.30" stroke="#ff0000" stroke-width="2.0" stroke-linecap="butt"/>
<line x1="134.85" y1="2214.10" x2="150.35" y2="2214.10" stroke="#ff0000" stroke-width="2.0" stroke-linecap="butt"/>
<line x1="202.00" y1="2177.80" x2="202.00" y2="2197.80" stroke="#ff0000" stroke-width="2.0" stroke-linecap="butt"/>
<line x1="194.25" y1="2177.80" x2="209.75" y2="2177.80" stroke="#ff0000" stroke-width="2.0" stroke-linecap="butt"/>
<line x1="194.25" y1="2197.80" x2="209.75" y2="2197.80" stroke="#ff0000" stroke-width="2.0" stroke-linecap="butt"/>
<line x1="736.60" y1="1941.80" x2="736.60" y2="1961.20" stroke="#ff0000" stroke-width="2.0" stroke-linecap="butt"/>
<line x1="728.85" y1="1941.80" x2="744.35" y2="1941.80" stroke="#ff0000" stroke-width="2.0" stroke-linecap="butt"/>
<line x1="728.85" y1="1961.20" x2="744.35" y2="1961.20" stroke="#ff0000" stroke-width="2.0" stroke-linecap="butt"/>
<polyline points="142.60,2200.70 202.00,2187.80 261.40,2172.50 320.80,2155.40 380.20,2134.90 439.60,2112.40 499.00,2082.60 558.40,2048.60 617.80,2012.50 677.20,1977.10 736.60,1951.50" fill="none" stroke="#ff0000" stroke-width="3.6" stroke-linejoin="round" />
<rect x="134.50" y="2192.60" width="16.20" height="16.20" fill="#ff0000" />
<rect x="193.90" y="2179.70" width="16.20" height="16.20" fill="#ff0000" />
<rect x="253.30" y="2164.40" width="16.20" height="16.20" fill="#ff0000" />
<rect x="312.70" y="2147.30" width="16.20" height="16.20" fill="#ff0000" />
<rect x="372.10" y="2126.80" width="16.20" height="16.20" fill="#ff0000" />
<rect x="431.50" y="2104.30" width="16.20" height="16.20" fill="#ff0000" />
<rect x="490.90" y="2074.50" width="16.20" height="16.20" fill="#ff0000" />
<rect x="550.30" y="2040.50" width="16.20" height="16.20" fill="#ff0000" />
<rect x="609.70" y="2004.40" width="16.20" height="16.20" fill="#ff0000" />
<rect x="669.10" y="1969.00" width="16.20" height="16.20" fill="#ff0000" />
<rect x="728.50" y="1943.40" width="16.20" height="16.20" fill="#ff0000" />
</g>
<g>
<polyline points="142.60,2136.00 202.00,2134.50 261.40,2129.00 320.80,2123.50 380.20,2116.50 439.60,2107.00 499.00,2097.00 558.40,2086.70 617.80,2077.60 677.20,2071.90 736.60,2074.20" fill="none" stroke="#00c000" stroke-width="3.6" stroke-linejoin="round" />
<polygon points="134.40,2143.75 150.80,2143.75 142.60,2128.25" fill="#00c000"/>
<polygon points="193.80,2142.25 210.20,2142.25 202.00,2126.75" fill="#00c000"/>
<polygon points="253.20,2136.75 269.60,2136.75 261.40,2121.25" fill="#00c000"/>
<polygon points="312.60,2131.25 329.00,2131.25 320.80,2115.75" fill="#00c000"/>
<polygon points="372.00,2124.25 388.40,2124.25 380.20,2108.75" fill="#00c000"/>
<polygon points="431.40,2114.75 447.80,2114.75 439.60,2099.25" fill="#00c000"/>
<polygon points="490.80,2104.75 507.20,2104.75 499.00,2089.25" fill="#00c000"/>
<polygon points="550.20,2094.45 566.60,2094.45 558.40,2078.95" fill="#00c000"/>
<polygon points="609.60,2085.35 626.00,2085.35 617.80,2069.85" fill="#00c000"/>
<polygon points="669.00,2079.65 685.40,2079.65 677.20,2064.15" fill="#00c000"/>
<polygon points="728.40,2081.95 744.80,2081.95 736.60,2066.45" fill="#00c000"/>
</g>
<g>
<polyline points="142.60,2120.40 202.00,2117.80 261.40,2115.00 320.80,2113.10 380.20,2109.60 439.60,2104.60 499.00,2099.80 558.40,2095.40 617.80,2089.70 677.20,2084.50 736.60,2080.60" fill="none" stroke="#000" stroke-width="4.0" stroke-linejoin="round" />
<circle cx="142.60" cy="2120.40" r="8.00" fill="#000" />
<circle cx="202.00" cy="2117.80" r="8.00" fill="#000" />
<circle cx="261.40" cy="2115.00" r="8.00" fill="#000" />
<circle cx="320.80" cy="2113.10" r="8.00" fill="#000" />
<circle cx="380.20" cy="2109.60" r="8.00" fill="#000" />
<circle cx="439.60" cy="2104.60" r="8.00" fill="#000" />
<circle cx="499.00" cy="2099.80" r="8.00" fill="#000" />
<circle cx="558.40" cy="2095.40" r="8.00" fill="#000" />
<circle cx="617.80" cy="2089.70" r="8.00" fill="#000" />
<circle cx="677.20" cy="2084.50" r="8.00" fill="#000" />
<circle cx="736.60" cy="2080.60" r="8.00" fill="#000" />
</g>
<text x="865.20" y="1786.30" font-family="'Liberation Sans', sans-serif" font-weight="bold" font-size="45" fill="#000" >G</text>
<path d="M1096.45,2040.70 V2022.35 H1129.85 V2040.70" fill="none" stroke="#000" stroke-width="5.9" stroke-linejoin="miter"/>
<path d="M1155.45,2040.70 V1929.45 H1188.65 V2040.70" fill="none" stroke="#ff0000" stroke-width="5.9" stroke-linejoin="miter"/>
<path d="M1214.85,2040.70 V2018.55 H1248.55 V2040.70" fill="none" stroke="#00c000" stroke-width="5.9" stroke-linejoin="miter"/>
<path d="M1314.05,2040.70 V2047.55 H1347.45 V2040.70" fill="none" stroke="#000" stroke-width="5.9" stroke-linejoin="miter"/>
<path d="M1372.45,2040.70 V2110.95 H1405.85 V2040.70" fill="none" stroke="#ff0000" stroke-width="5.9" stroke-linejoin="miter"/>
<path d="M1431.45,2040.70 V2058.25 H1464.85 V2040.70" fill="none" stroke="#00c000" stroke-width="5.9" stroke-linejoin="miter"/>
<line x1="1389.10" y1="2127.20" x2="1389.10" y2="2112.00" stroke="#ff0000" stroke-width="1.8" stroke-linecap="butt"/>
<line x1="1379.55" y1="2127.20" x2="1398.65" y2="2127.20" stroke="#ff0000" stroke-width="1.8" stroke-linecap="butt"/>
<line x1="1379.55" y1="2112.00" x2="1398.65" y2="2112.00" stroke="#ff0000" stroke-width="1.8" stroke-linecap="butt"/>
<circle cx="1101.70" cy="2009.30" r="8.30" fill="#000" />
<circle cx="1113.80" cy="2018.20" r="8.30" fill="#000" />
<circle cx="1124.60" cy="2020.10" r="8.30" fill="#000" />
<circle cx="1101.70" cy="2027.70" r="8.30" fill="#000" />
<circle cx="1160.70" cy="1916.60" r="8.30" fill="#ff0000" />
<circle cx="1172.20" cy="1916.90" r="8.30" fill="#ff0000" />
<circle cx="1183.60" cy="1927.40" r="8.30" fill="#ff0000" />
<circle cx="1160.70" cy="1943.30" r="8.30" fill="#ff0000" />
<circle cx="1228.00" cy="2011.20" r="8.30" fill="#00c000" />
<circle cx="1242.60" cy="2013.10" r="8.30" fill="#00c000" />
<circle cx="1220.40" cy="2020.70" r="8.30" fill="#00c000" />
<circle cx="1235.00" cy="2015.60" r="8.30" fill="#00c000" />
<circle cx="1325.70" cy="2044.10" r="8.30" fill="#000" />
<circle cx="1318.10" cy="2055.50" r="8.30" fill="#000" />
<circle cx="1333.30" cy="2050.50" r="8.30" fill="#000" />
<circle cx="1340.90" cy="2049.20" r="8.30" fill="#000" />
<circle cx="1377.70" cy="2093.00" r="8.30" fill="#ff0000" />
<circle cx="1389.10" cy="2105.00" r="8.30" fill="#ff0000" />
<circle cx="1399.30" cy="2103.80" r="8.30" fill="#ff0000" />
<circle cx="1389.10" cy="2152.60" r="8.30" fill="#ff0000" />
<circle cx="1438.60" cy="2054.90" r="8.30" fill="#00c000" />
<circle cx="1451.30" cy="2057.40" r="8.30" fill="#00c000" />
<circle cx="1460.20" cy="2056.80" r="8.30" fill="#00c000" />
<circle cx="1436.70" cy="2073.90" r="8.30" fill="#00c000" />
<line x1="1073.20" y1="1856.22" x2="1073.20" y2="2274.00" stroke="#000" stroke-width="3.8" stroke-linecap="butt"/>
<line x1="1056.20" y1="1858.12" x2="1073.20" y2="1858.12" stroke="#000" stroke-width="3.8" stroke-linecap="butt"/>
<text x="981.40" y="1869.27" font-family="'Liberation Sans', sans-serif" font-weight="bold" font-size="31.4" fill="#000" >1500</text>
<line x1="1056.20" y1="1918.98" x2="1073.20" y2="1918.98" stroke="#000" stroke-width="3.8" stroke-linecap="butt"/>
<text x="981.40" y="1930.13" font-family="'Liberation Sans', sans-serif" font-weight="bold" font-size="31.4" fill="#000" >1000</text>
<line x1="1056.20" y1="1979.84" x2="1073.20" y2="1979.84" stroke="#000" stroke-width="3.8" stroke-linecap="butt"/>
<text x="998.40" y="1990.99" font-family="'Liberation Sans', sans-serif" font-weight="bold" font-size="31.4" fill="#000" >500</text>
<line x1="1056.20" y1="2101.56" x2="1073.20" y2="2101.56" stroke="#000" stroke-width="3.8" stroke-linecap="butt"/>
<text x="988.40" y="2112.71" font-family="'Liberation Sans', sans-serif" font-weight="bold" font-size="31.4" fill="#000" >-500</text>
<line x1="1056.20" y1="2162.42" x2="1073.20" y2="2162.42" stroke="#000" stroke-width="3.8" stroke-linecap="butt"/>
<text x="971.40" y="2173.57" font-family="'Liberation Sans', sans-serif" font-weight="bold" font-size="31.4" fill="#000" >-1000</text>
<line x1="1056.20" y1="2040.70" x2="1489.80" y2="2040.70" stroke="#000" stroke-width="3.8" stroke-linecap="butt"/>
<text x="1033.40" y="2051.85" font-family="'Liberation Sans', sans-serif" font-weight="bold" font-size="31.4" fill="#000" >0</text>
<line x1="1071.30" y1="2272.10" x2="1489.80" y2="2272.10" stroke="#000" stroke-width="3.8" stroke-linecap="butt"/>
<line x1="1171.90" y1="2272.10" x2="1171.90" y2="2289.10" stroke="#000" stroke-width="3.8" stroke-linecap="butt"/>
<line x1="1389.40" y1="2272.10" x2="1389.40" y2="2289.10" stroke="#000" stroke-width="3.8" stroke-linecap="butt"/>
<text x="1107.20" y="2321.30" font-family="'Liberation Sans', sans-serif" font-weight="bold" font-size="31.6" fill="#000" >+100 mV</text>
<text x="1327.50" y="2321.30" font-family="'Liberation Sans', sans-serif" font-weight="bold" font-size="31.6" fill="#000" >-100 mV</text>
<path d="M1113,1985.1 V1867 H1172.4 V1890.8" stroke="#000" stroke-width="3.3" fill="none" stroke-linejoin="miter" />
<path d="M1172.4,1802.8 V1779.1 H1231 V1986.2" stroke="#000" stroke-width="3.3" fill="none" stroke-linejoin="miter" />
<text x="1096.60" y="1861.85" font-family="'DejaVu Sans', sans-serif" font-weight="normal" font-size="40.5" fill="#000" letter-spacing="3.75" stroke="#000" stroke-width="1.0" stroke-linejoin="miter">****</text>
<text x="1156.00" y="1773.35" font-family="'DejaVu Sans', sans-serif" font-weight="normal" font-size="40.5" fill="#000" letter-spacing="3.75" stroke="#000" stroke-width="1.0" stroke-linejoin="miter">****</text>
<path d="M1329.5,2087.3 V2183.1 H1388.1 V2171" stroke="#000" stroke-width="3.3" fill="none" stroke-linejoin="miter" />
<text x="1310.60" y="2219.95" font-family="'DejaVu Sans', sans-serif" font-weight="normal" font-size="40.5" fill="#000" letter-spacing="3.75" stroke="#000" stroke-width="1.0" stroke-linejoin="miter">****</text>
<path d="M1388.3,2221.7 V2228 H1447.8 V2096.1" stroke="#000" stroke-width="3.3" fill="none" stroke-linejoin="miter" />
<text x="1374.10" y="2269.95" font-family="'DejaVu Sans', sans-serif" font-weight="normal" font-size="40.5" fill="#000" letter-spacing="3.75" stroke="#000" stroke-width="1.0" stroke-linejoin="miter">****</text>
<text transform="rotate(-90)" x="-2107.00" y="950.80" font-family="'Liberation Sans', sans-serif" font-weight="bold" font-size="33.4" fill="#000">I (pA)</text>
<circle cx="1427.70" cy="1809.00" r="8.60" fill="#000" />
<circle cx="1427.70" cy="1855.00" r="8.60" fill="#ff0000" />
<circle cx="1427.70" cy="1900.70" r="8.60" fill="#00c000" />
<text x="1475.00" y="1818.20" font-family="'Liberation Sans', sans-serif" font-weight="normal" font-size="28.5" fill="#000" >Vehicle</text>
<text x="1474.70" y="1864.00" font-family="'Liberation Sans', sans-serif" font-weight="normal" font-size="28.5" fill="#000" >EP</text>
<text x="1474.70" y="1910.30" font-family="'Liberation Sans', sans-serif" font-weight="normal" font-size="28.5" fill="#000" >EP+Yoh</text>
</svg>
</body></html>
